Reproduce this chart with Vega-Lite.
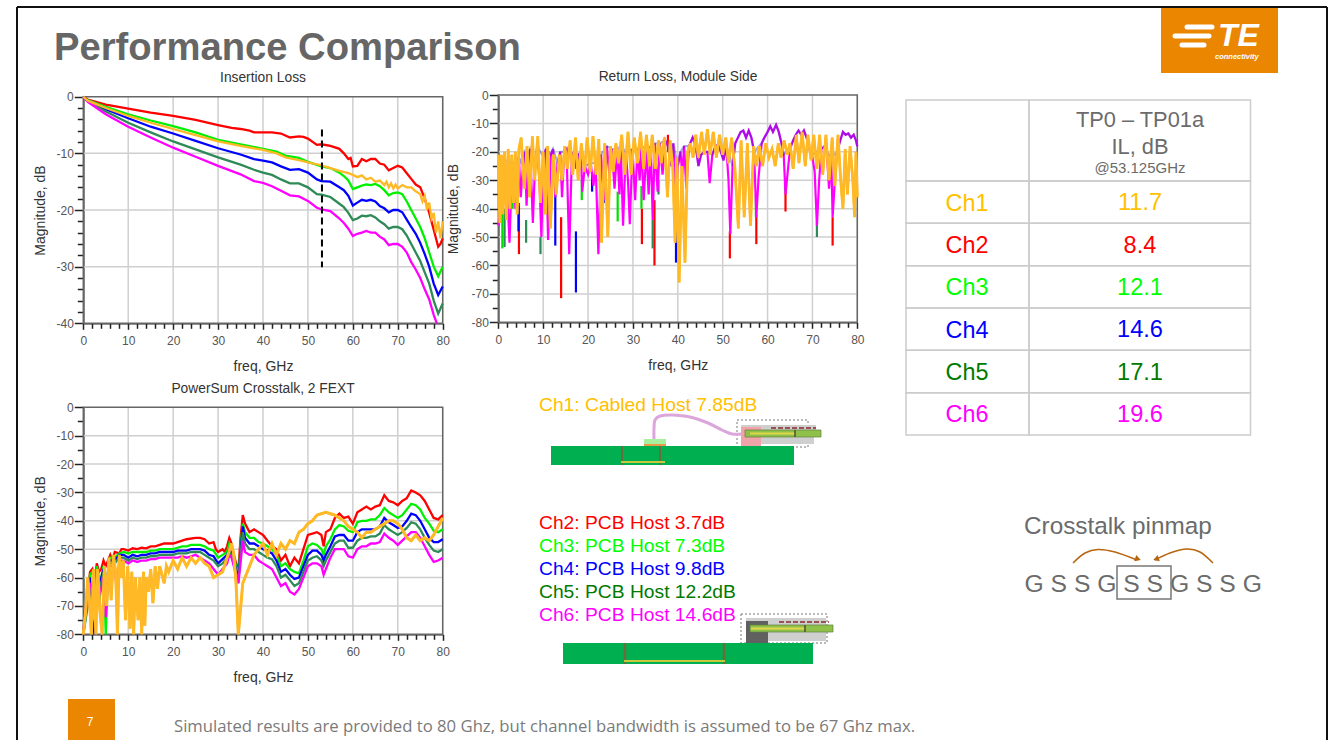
{"$schema":"https://vega.github.io/schema/vega-lite/v6.json","width":1331,"height":740,"padding":0,"autosize":{"type":"none"},"background":"white","data":{"values":[{}]},
"config":{"view":{"stroke":null},"font":"Liberation Sans","axis":{"labelFont":"Liberation Sans","titleFont":"Liberation Sans","labelFontSize":12,"titleFontSize":14,"titleFontWeight":"normal","labelColor":"#555555","titleColor":"#333333","grid":false,"domainColor":"#222222","domainWidth":1.5,"tickColor":"#222222","tickWidth":1.5,"labelOverlap":false,"labelFlush":false}},
"resolve":{"scale":{"x":"independent","y":"independent","color":"independent"},"axis":{"x":"independent","y":"independent"}},
"datasets":{
"il":[
{"ch":"Ch2","f":0,"db":0},{"ch":"Ch2","f":1,"db":-0.5},{"ch":"Ch2","f":5,"db":-1.4},{"ch":"Ch2","f":10,"db":-2.1},{"ch":"Ch2","f":15,"db":-2.8},{"ch":"Ch2","f":20,"db":-3.4},{"ch":"Ch2","f":25,"db":-4.1},{"ch":"Ch2","f":30,"db":-5},{"ch":"Ch2","f":33,"db":-5.5},{"ch":"Ch2","f":35,"db":-5.7},{"ch":"Ch2","f":37,"db":-6},{"ch":"Ch2","f":38,"db":-6.3},{"ch":"Ch2","f":40,"db":-6.3},{"ch":"Ch2","f":42,"db":-6.3},{"ch":"Ch2","f":44,"db":-6.5},{"ch":"Ch2","f":46,"db":-7.2},{"ch":"Ch2","f":48,"db":-7},{"ch":"Ch2","f":49,"db":-7.1},{"ch":"Ch2","f":50,"db":-7.4},{"ch":"Ch2","f":52,"db":-8.5},{"ch":"Ch2","f":53,"db":-8.4},{"ch":"Ch2","f":55,"db":-8.7},{"ch":"Ch2","f":57,"db":-9.2},{"ch":"Ch2","f":58,"db":-10},{"ch":"Ch2","f":59,"db":-11},{"ch":"Ch2","f":59.5,"db":-10.8},{"ch":"Ch2","f":60,"db":-12.3},{"ch":"Ch2","f":61,"db":-12.2},{"ch":"Ch2","f":62,"db":-11},{"ch":"Ch2","f":63,"db":-11.4},{"ch":"Ch2","f":64,"db":-11},{"ch":"Ch2","f":65,"db":-11},{"ch":"Ch2","f":66,"db":-11.8},{"ch":"Ch2","f":67,"db":-12},{"ch":"Ch2","f":68,"db":-13},{"ch":"Ch2","f":69,"db":-12.6},{"ch":"Ch2","f":70,"db":-12.2},{"ch":"Ch2","f":71,"db":-12.5},{"ch":"Ch2","f":72,"db":-13.5},{"ch":"Ch2","f":73,"db":-14.5},{"ch":"Ch2","f":74,"db":-15.5},{"ch":"Ch2","f":75,"db":-16},{"ch":"Ch2","f":76,"db":-18},{"ch":"Ch2","f":77,"db":-20.5},{"ch":"Ch2","f":78,"db":-23.5},{"ch":"Ch2","f":79,"db":-26.5},{"ch":"Ch2","f":79.5,"db":-26},{"ch":"Ch2","f":80,"db":-25},
{"ch":"Ch3","f":0,"db":0},{"ch":"Ch3","f":1,"db":-0.6},{"ch":"Ch3","f":5,"db":-1.8},{"ch":"Ch3","f":10,"db":-3.1},{"ch":"Ch3","f":15,"db":-4.2},{"ch":"Ch3","f":20,"db":-5.2},{"ch":"Ch3","f":25,"db":-6.3},{"ch":"Ch3","f":30,"db":-7.6},{"ch":"Ch3","f":35,"db":-8.4},{"ch":"Ch3","f":40,"db":-9.2},{"ch":"Ch3","f":43,"db":-9.7},{"ch":"Ch3","f":45,"db":-10.4},{"ch":"Ch3","f":48,"db":-10.8},{"ch":"Ch3","f":50,"db":-11.5},{"ch":"Ch3","f":53,"db":-12.3},{"ch":"Ch3","f":55,"db":-12.6},{"ch":"Ch3","f":57,"db":-13.4},{"ch":"Ch3","f":58,"db":-14},{"ch":"Ch3","f":59,"db":-14.8},{"ch":"Ch3","f":60,"db":-16.3},{"ch":"Ch3","f":61,"db":-16},{"ch":"Ch3","f":62,"db":-15.7},{"ch":"Ch3","f":63,"db":-15.5},{"ch":"Ch3","f":64,"db":-15.6},{"ch":"Ch3","f":65,"db":-15.4},{"ch":"Ch3","f":66,"db":-15.8},{"ch":"Ch3","f":67,"db":-16.5},{"ch":"Ch3","f":68,"db":-17.4},{"ch":"Ch3","f":69,"db":-17},{"ch":"Ch3","f":70,"db":-16.9},{"ch":"Ch3","f":71,"db":-17.2},{"ch":"Ch3","f":72,"db":-18.5},{"ch":"Ch3","f":73,"db":-20},{"ch":"Ch3","f":74,"db":-21.5},{"ch":"Ch3","f":75,"db":-23},{"ch":"Ch3","f":76,"db":-25},{"ch":"Ch3","f":77,"db":-27.5},{"ch":"Ch3","f":78,"db":-30},{"ch":"Ch3","f":79,"db":-31.7},{"ch":"Ch3","f":80,"db":-30},
{"ch":"Ch4","f":0,"db":0},{"ch":"Ch4","f":1,"db":-0.7},{"ch":"Ch4","f":5,"db":-2.2},{"ch":"Ch4","f":10,"db":-3.8},{"ch":"Ch4","f":15,"db":-5.3},{"ch":"Ch4","f":20,"db":-6.5},{"ch":"Ch4","f":25,"db":-7.8},{"ch":"Ch4","f":30,"db":-9.1},{"ch":"Ch4","f":35,"db":-10.2},{"ch":"Ch4","f":38,"db":-11},{"ch":"Ch4","f":40,"db":-11.3},{"ch":"Ch4","f":42,"db":-11.6},{"ch":"Ch4","f":44,"db":-12.3},{"ch":"Ch4","f":46,"db":-12.9},{"ch":"Ch4","f":48,"db":-12.8},{"ch":"Ch4","f":50,"db":-13.4},{"ch":"Ch4","f":52,"db":-14.6},{"ch":"Ch4","f":53,"db":-14.9},{"ch":"Ch4","f":55,"db":-15},{"ch":"Ch4","f":57,"db":-16},{"ch":"Ch4","f":58,"db":-16.5},{"ch":"Ch4","f":59,"db":-17.5},{"ch":"Ch4","f":60,"db":-19.2},{"ch":"Ch4","f":61,"db":-18.7},{"ch":"Ch4","f":62,"db":-18.2},{"ch":"Ch4","f":63,"db":-18.4},{"ch":"Ch4","f":64,"db":-18.2},{"ch":"Ch4","f":65,"db":-18.5},{"ch":"Ch4","f":66,"db":-19.3},{"ch":"Ch4","f":67,"db":-19.7},{"ch":"Ch4","f":68,"db":-20.4},{"ch":"Ch4","f":69,"db":-20},{"ch":"Ch4","f":70,"db":-20},{"ch":"Ch4","f":71,"db":-20.4},{"ch":"Ch4","f":72,"db":-21.7},{"ch":"Ch4","f":73,"db":-23},{"ch":"Ch4","f":74,"db":-24.2},{"ch":"Ch4","f":75,"db":-25.8},{"ch":"Ch4","f":76,"db":-27.8},{"ch":"Ch4","f":77,"db":-30},{"ch":"Ch4","f":78,"db":-33},{"ch":"Ch4","f":79,"db":-35},{"ch":"Ch4","f":80,"db":-33.5},
{"ch":"Ch5","f":0,"db":0},{"ch":"Ch5","f":1,"db":-0.8},{"ch":"Ch5","f":5,"db":-2.6},{"ch":"Ch5","f":10,"db":-4.6},{"ch":"Ch5","f":15,"db":-6.3},{"ch":"Ch5","f":20,"db":-7.9},{"ch":"Ch5","f":25,"db":-9.3},{"ch":"Ch5","f":30,"db":-10.7},{"ch":"Ch5","f":35,"db":-12},{"ch":"Ch5","f":38,"db":-12.9},{"ch":"Ch5","f":40,"db":-13.4},{"ch":"Ch5","f":42,"db":-13.8},{"ch":"Ch5","f":44,"db":-14.6},{"ch":"Ch5","f":46,"db":-15.3},{"ch":"Ch5","f":48,"db":-15.3},{"ch":"Ch5","f":50,"db":-16},{"ch":"Ch5","f":52,"db":-17.2},{"ch":"Ch5","f":53,"db":-17.3},{"ch":"Ch5","f":55,"db":-17.7},{"ch":"Ch5","f":57,"db":-18.9},{"ch":"Ch5","f":58,"db":-19.5},{"ch":"Ch5","f":59,"db":-20.5},{"ch":"Ch5","f":60,"db":-21.8},{"ch":"Ch5","f":61,"db":-21.5},{"ch":"Ch5","f":62,"db":-21},{"ch":"Ch5","f":63,"db":-21.1},{"ch":"Ch5","f":64,"db":-20.9},{"ch":"Ch5","f":65,"db":-21.3},{"ch":"Ch5","f":66,"db":-22},{"ch":"Ch5","f":67,"db":-22.5},{"ch":"Ch5","f":68,"db":-23.3},{"ch":"Ch5","f":69,"db":-23},{"ch":"Ch5","f":70,"db":-23},{"ch":"Ch5","f":71,"db":-23.4},{"ch":"Ch5","f":72,"db":-24.5},{"ch":"Ch5","f":73,"db":-26},{"ch":"Ch5","f":74,"db":-27.5},{"ch":"Ch5","f":75,"db":-29},{"ch":"Ch5","f":76,"db":-31},{"ch":"Ch5","f":77,"db":-33},{"ch":"Ch5","f":78,"db":-36},{"ch":"Ch5","f":79,"db":-38.3},{"ch":"Ch5","f":80,"db":-36.5},
{"ch":"Ch6","f":0,"db":0},{"ch":"Ch6","f":1,"db":-0.9},{"ch":"Ch6","f":5,"db":-3.1},{"ch":"Ch6","f":10,"db":-5.3},{"ch":"Ch6","f":15,"db":-7.2},{"ch":"Ch6","f":20,"db":-9},{"ch":"Ch6","f":25,"db":-10.6},{"ch":"Ch6","f":30,"db":-12.2},{"ch":"Ch6","f":35,"db":-13.7},{"ch":"Ch6","f":38,"db":-14.9},{"ch":"Ch6","f":40,"db":-15.2},{"ch":"Ch6","f":42,"db":-15.8},{"ch":"Ch6","f":44,"db":-16.6},{"ch":"Ch6","f":46,"db":-17.4},{"ch":"Ch6","f":48,"db":-17.6},{"ch":"Ch6","f":50,"db":-18.4},{"ch":"Ch6","f":52,"db":-19.6},{"ch":"Ch6","f":53,"db":-19.9},{"ch":"Ch6","f":55,"db":-20.2},{"ch":"Ch6","f":57,"db":-21.5},{"ch":"Ch6","f":58,"db":-22.3},{"ch":"Ch6","f":59,"db":-23.3},{"ch":"Ch6","f":60,"db":-24.6},{"ch":"Ch6","f":61,"db":-24.2},{"ch":"Ch6","f":62,"db":-24},{"ch":"Ch6","f":63,"db":-23.7},{"ch":"Ch6","f":64,"db":-24},{"ch":"Ch6","f":65,"db":-24},{"ch":"Ch6","f":66,"db":-24.7},{"ch":"Ch6","f":67,"db":-25.2},{"ch":"Ch6","f":68,"db":-26.2},{"ch":"Ch6","f":69,"db":-26},{"ch":"Ch6","f":70,"db":-26},{"ch":"Ch6","f":71,"db":-26.5},{"ch":"Ch6","f":72,"db":-27.5},{"ch":"Ch6","f":73,"db":-29.2},{"ch":"Ch6","f":74,"db":-30.5},{"ch":"Ch6","f":75,"db":-32},{"ch":"Ch6","f":76,"db":-34},{"ch":"Ch6","f":77,"db":-35.8},{"ch":"Ch6","f":78,"db":-38.5},{"ch":"Ch6","f":78.7,"db":-40},
{"ch":"Ch1","f":0,"db":0},{"ch":"Ch1","f":1,"db":-0.7},{"ch":"Ch1","f":5,"db":-2},{"ch":"Ch1","f":10,"db":-3.4},{"ch":"Ch1","f":15,"db":-4.6},{"ch":"Ch1","f":20,"db":-5.7},{"ch":"Ch1","f":25,"db":-6.8},{"ch":"Ch1","f":30,"db":-7.9},{"ch":"Ch1","f":35,"db":-8.7},{"ch":"Ch1","f":40,"db":-9.4},{"ch":"Ch1","f":43,"db":-10},{"ch":"Ch1","f":45,"db":-10.7},{"ch":"Ch1","f":48,"db":-11.2},{"ch":"Ch1","f":50,"db":-11.6},{"ch":"Ch1","f":53,"db":-12.1},{"ch":"Ch1","f":55,"db":-12.6},{"ch":"Ch1","f":57,"db":-13.1},{"ch":"Ch1","f":59,"db":-13.5},{"ch":"Ch1","f":60,"db":-13.8},{"ch":"Ch1","f":61,"db":-14.2},{"ch":"Ch1","f":62,"db":-13.9},{"ch":"Ch1","f":63,"db":-14.6},{"ch":"Ch1","f":64,"db":-14.3},{"ch":"Ch1","f":65,"db":-15},{"ch":"Ch1","f":66,"db":-14.8},{"ch":"Ch1","f":67,"db":-15.6},{"ch":"Ch1","f":67.5,"db":-15},{"ch":"Ch1","f":68,"db":-16},{"ch":"Ch1","f":68.5,"db":-15.3},{"ch":"Ch1","f":69,"db":-16.2},{"ch":"Ch1","f":69.5,"db":-15.5},{"ch":"Ch1","f":70,"db":-16.2},{"ch":"Ch1","f":71,"db":-15.6},{"ch":"Ch1","f":72,"db":-16},{"ch":"Ch1","f":73,"db":-16},{"ch":"Ch1","f":74,"db":-16.7},{"ch":"Ch1","f":75,"db":-17.2},{"ch":"Ch1","f":75.5,"db":-18.5},{"ch":"Ch1","f":76,"db":-17.5},{"ch":"Ch1","f":76.5,"db":-20},{"ch":"Ch1","f":77,"db":-18.7},{"ch":"Ch1","f":77.5,"db":-21.5},{"ch":"Ch1","f":78,"db":-20.5},{"ch":"Ch1","f":78.5,"db":-24},{"ch":"Ch1","f":79,"db":-22},{"ch":"Ch1","f":79.5,"db":-25},{"ch":"Ch1","f":80,"db":-22}
],
"rl":[
{"ch":"Ch2","seg":1,"f":4.6,"db":-38},{"ch":"Ch2","seg":1,"f":4.6,"db":-56},{"ch":"Ch2","seg":2,"f":14,"db":-43},{"ch":"Ch2","seg":2,"f":14,"db":-71.5},{"ch":"Ch2","seg":3,"f":32,"db":-40},{"ch":"Ch2","seg":3,"f":32,"db":-52.5},{"ch":"Ch2","seg":4,"f":34.8,"db":-37},{"ch":"Ch2","seg":4,"f":34.8,"db":-60},{"ch":"Ch2","seg":5,"f":51.6,"db":-48},{"ch":"Ch2","seg":5,"f":51.6,"db":-57.5},{"ch":"Ch2","seg":6,"f":57.5,"db":-42},{"ch":"Ch2","seg":6,"f":57.5,"db":-52.5},{"ch":"Ch2","seg":7,"f":64,"db":-34},{"ch":"Ch2","seg":7,"f":64,"db":-41},{"ch":"Ch2","seg":8,"f":74.5,"db":-43},{"ch":"Ch2","seg":8,"f":74.5,"db":-53},{"ch":"Ch2","seg":9,"f":37.8,"db":-14},{"ch":"Ch2","seg":9,"f":37.8,"db":-20},{"ch":"Ch2","seg":10,"f":42,"db":-28},{"ch":"Ch2","seg":10,"f":42,"db":-33},
{"ch":"Ch3","seg":1,"f":0.9,"db":-35},{"ch":"Ch3","seg":1,"f":0.9,"db":-54},{"ch":"Ch3","seg":2,"f":26.6,"db":-34},{"ch":"Ch3","seg":2,"f":26.6,"db":-44.5},{"ch":"Ch3","seg":3,"f":31.9,"db":-32},{"ch":"Ch3","seg":3,"f":31.9,"db":-40},{"ch":"Ch3","seg":4,"f":18.6,"db":-30},{"ch":"Ch3","seg":4,"f":18.6,"db":-37},{"ch":"Ch3","seg":5,"f":57.4,"db":-35},{"ch":"Ch3","seg":5,"f":57.4,"db":-43},{"ch":"Ch3","seg":6,"f":63.9,"db":-31},{"ch":"Ch3","seg":6,"f":63.9,"db":-34},{"ch":"Ch3","seg":7,"f":3.2,"db":-32},{"ch":"Ch3","seg":7,"f":3.2,"db":-40},
{"ch":"Ch4","seg":1,"f":4.5,"db":-39},{"ch":"Ch4","seg":1,"f":4.5,"db":-48},{"ch":"Ch4","seg":2,"f":12.7,"db":-35},{"ch":"Ch4","seg":2,"f":12.7,"db":-53},{"ch":"Ch4","seg":3,"f":17.3,"db":-48},{"ch":"Ch4","seg":3,"f":17.3,"db":-69.5},{"ch":"Ch4","seg":4,"f":39.6,"db":-38},{"ch":"Ch4","seg":4,"f":39.6,"db":-59},{"ch":"Ch4","seg":5,"f":23.5,"db":-30},{"ch":"Ch4","seg":5,"f":23.5,"db":-38},{"ch":"Ch4","seg":6,"f":20.9,"db":-28},{"ch":"Ch4","seg":6,"f":20.9,"db":-34},
{"ch":"Ch5","seg":1,"f":1.4,"db":-40},{"ch":"Ch5","seg":1,"f":1.4,"db":-53.5},{"ch":"Ch5","seg":2,"f":6.2,"db":-44},{"ch":"Ch5","seg":2,"f":6.2,"db":-52},{"ch":"Ch5","seg":3,"f":9.4,"db":-50},{"ch":"Ch5","seg":3,"f":9.4,"db":-56},{"ch":"Ch5","seg":4,"f":34.4,"db":-44},{"ch":"Ch5","seg":4,"f":34.4,"db":-54},{"ch":"Ch5","seg":5,"f":71,"db":-45},{"ch":"Ch5","seg":5,"f":71,"db":-50},{"ch":"Ch5","seg":6,"f":35.7,"db":-30},{"ch":"Ch5","seg":6,"f":35.7,"db":-35},
{"ch":"Ch6","seg":0,"f":0,"db":-46},{"ch":"Ch6","seg":0,"f":0.5,"db":-40},{"ch":"Ch6","seg":0,"f":1,"db":-30},{"ch":"Ch6","seg":0,"f":1.5,"db":-23},{"ch":"Ch6","seg":0,"f":2,"db":-35},{"ch":"Ch6","seg":0,"f":2.5,"db":-52},{"ch":"Ch6","seg":0,"f":3,"db":-28},{"ch":"Ch6","seg":0,"f":3.4,"db":-24},{"ch":"Ch6","seg":0,"f":3.8,"db":-40},{"ch":"Ch6","seg":0,"f":4.2,"db":-30},{"ch":"Ch6","seg":0,"f":4.6,"db":-22},{"ch":"Ch6","seg":0,"f":5,"db":-36},{"ch":"Ch6","seg":0,"f":5.5,"db":-25},{"ch":"Ch6","seg":0,"f":5.9,"db":-20},{"ch":"Ch6","seg":0,"f":6.3,"db":-39},{"ch":"Ch6","seg":0,"f":6.7,"db":-22},{"ch":"Ch6","seg":0,"f":7.1,"db":-19},{"ch":"Ch6","seg":0,"f":7.7,"db":-45},{"ch":"Ch6","seg":0,"f":8.2,"db":-24},{"ch":"Ch6","seg":0,"f":8.7,"db":-18},{"ch":"Ch6","seg":0,"f":9.2,"db":-32},{"ch":"Ch6","seg":0,"f":9.6,"db":-50},{"ch":"Ch6","seg":0,"f":10.1,"db":-22},{"ch":"Ch6","seg":0,"f":10.6,"db":-19},{"ch":"Ch6","seg":0,"f":11.1,"db":-51},{"ch":"Ch6","seg":0,"f":11.7,"db":-21},{"ch":"Ch6","seg":0,"f":12.2,"db":-19},{"ch":"Ch6","seg":0,"f":12.7,"db":-36},{"ch":"Ch6","seg":0,"f":13.2,"db":-24},{"ch":"Ch6","seg":0,"f":13.8,"db":-20},{"ch":"Ch6","seg":0,"f":14.2,"db":-36},{"ch":"Ch6","seg":0,"f":14.7,"db":-20},{"ch":"Ch6","seg":0,"f":15.2,"db":-19},{"ch":"Ch6","seg":0,"f":15.8,"db":-56},{"ch":"Ch6","seg":0,"f":16.4,"db":-21},{"ch":"Ch6","seg":0,"f":16.9,"db":-20},{"ch":"Ch6","seg":0,"f":17.4,"db":-26},{"ch":"Ch6","seg":0,"f":17.9,"db":-21},{"ch":"Ch6","seg":0,"f":18.4,"db":-20},{"ch":"Ch6","seg":0,"f":18.7,"db":-34},{"ch":"Ch6","seg":0,"f":19.3,"db":-25},{"ch":"Ch6","seg":0,"f":20,"db":-28},{"ch":"Ch6","seg":0,"f":20.6,"db":-24},{"ch":"Ch6","seg":0,"f":21.2,"db":-32},{"ch":"Ch6","seg":0,"f":21.7,"db":-24},{"ch":"Ch6","seg":0,"f":22.3,"db":-56},{"ch":"Ch6","seg":0,"f":22.9,"db":-21},{"ch":"Ch6","seg":0,"f":23.6,"db":-37},{"ch":"Ch6","seg":0,"f":24.2,"db":-18},{"ch":"Ch6","seg":0,"f":24.8,"db":-29},{"ch":"Ch6","seg":0,"f":25.3,"db":-19},{"ch":"Ch6","seg":0,"f":25.9,"db":-33},{"ch":"Ch6","seg":0,"f":26.5,"db":-19},{"ch":"Ch6","seg":0,"f":27,"db":-35},{"ch":"Ch6","seg":0,"f":27.3,"db":-18},{"ch":"Ch6","seg":0,"f":27.8,"db":-46},{"ch":"Ch6","seg":0,"f":28.4,"db":-20},{"ch":"Ch6","seg":0,"f":28.9,"db":-30},{"ch":"Ch6","seg":0,"f":29.3,"db":-45.5},{"ch":"Ch6","seg":0,"f":29.9,"db":-19},{"ch":"Ch6","seg":0,"f":30.5,"db":-37},{"ch":"Ch6","seg":0,"f":31,"db":-19},{"ch":"Ch6","seg":0,"f":31.5,"db":-30},{"ch":"Ch6","seg":0,"f":31.9,"db":-18},{"ch":"Ch6","seg":0,"f":32.4,"db":-37},{"ch":"Ch6","seg":0,"f":33,"db":-19},{"ch":"Ch6","seg":0,"f":33.5,"db":-35},{"ch":"Ch6","seg":0,"f":34,"db":-18},{"ch":"Ch6","seg":0,"f":34.4,"db":-44},{"ch":"Ch6","seg":0,"f":34.9,"db":-17},{"ch":"Ch6","seg":0,"f":35.5,"db":-34},{"ch":"Ch6","seg":0,"f":36,"db":-17},{"ch":"Ch6","seg":0,"f":36.6,"db":-28},{"ch":"Ch6","seg":0,"f":37.2,"db":-16},{"ch":"Ch6","seg":0,"f":37.8,"db":-18},{"ch":"Ch6","seg":0,"f":38.5,"db":-25},{"ch":"Ch6","seg":0,"f":39,"db":-17},{"ch":"Ch6","seg":0,"f":39.6,"db":-38},{"ch":"Ch6","seg":0,"f":40,"db":-25},{"ch":"Ch6","seg":0,"f":40.6,"db":-20},{"ch":"Ch6","seg":0,"f":41,"db":-28},{"ch":"Ch6","seg":0,"f":41.4,"db":-18},{"ch":"Ch6","seg":0,"f":41.9,"db":-33},{"ch":"Ch6","seg":0,"f":42.5,"db":-18},{"ch":"Ch6","seg":0,"f":43.3,"db":-15},{"ch":"Ch6","seg":0,"f":44,"db":-18},{"ch":"Ch6","seg":0,"f":44.6,"db":-25},{"ch":"Ch6","seg":0,"f":45.2,"db":-21},{"ch":"Ch6","seg":0,"f":45.9,"db":-20},{"ch":"Ch6","seg":0,"f":46.6,"db":-20},{"ch":"Ch6","seg":0,"f":47.1,"db":-31},{"ch":"Ch6","seg":0,"f":47.7,"db":-21},{"ch":"Ch6","seg":0,"f":48.4,"db":-18},{"ch":"Ch6","seg":0,"f":49,"db":-17.5},{"ch":"Ch6","seg":0,"f":49.6,"db":-20},{"ch":"Ch6","seg":0,"f":50.2,"db":-23},{"ch":"Ch6","seg":0,"f":50.8,"db":-18},{"ch":"Ch6","seg":0,"f":51.3,"db":-30},{"ch":"Ch6","seg":0,"f":51.7,"db":-49},{"ch":"Ch6","seg":0,"f":52.2,"db":-25},{"ch":"Ch6","seg":0,"f":52.8,"db":-17},{"ch":"Ch6","seg":0,"f":53.4,"db":-15},{"ch":"Ch6","seg":0,"f":54,"db":-13},{"ch":"Ch6","seg":0,"f":54.6,"db":-12.5},{"ch":"Ch6","seg":0,"f":55.2,"db":-15},{"ch":"Ch6","seg":0,"f":55.8,"db":-12.5},{"ch":"Ch6","seg":0,"f":56.4,"db":-15},{"ch":"Ch6","seg":0,"f":57,"db":-20},{"ch":"Ch6","seg":0,"f":57.5,"db":-43},{"ch":"Ch6","seg":0,"f":58,"db":-29},{"ch":"Ch6","seg":0,"f":58.7,"db":-17},{"ch":"Ch6","seg":0,"f":59.3,"db":-15},{"ch":"Ch6","seg":0,"f":60,"db":-13},{"ch":"Ch6","seg":0,"f":60.6,"db":-11},{"ch":"Ch6","seg":0,"f":61.2,"db":-13},{"ch":"Ch6","seg":0,"f":61.9,"db":-10.5},{"ch":"Ch6","seg":0,"f":62.5,"db":-13},{"ch":"Ch6","seg":0,"f":63.1,"db":-17},{"ch":"Ch6","seg":0,"f":63.6,"db":-21},{"ch":"Ch6","seg":0,"f":64,"db":-35},{"ch":"Ch6","seg":0,"f":64.5,"db":-27},{"ch":"Ch6","seg":0,"f":65,"db":-19},{"ch":"Ch6","seg":0,"f":65.7,"db":-16},{"ch":"Ch6","seg":0,"f":66.3,"db":-14},{"ch":"Ch6","seg":0,"f":66.9,"db":-12.5},{"ch":"Ch6","seg":0,"f":67.5,"db":-14},{"ch":"Ch6","seg":0,"f":68.1,"db":-12.5},{"ch":"Ch6","seg":0,"f":68.7,"db":-15},{"ch":"Ch6","seg":0,"f":69.3,"db":-19},{"ch":"Ch6","seg":0,"f":69.9,"db":-21},{"ch":"Ch6","seg":0,"f":70.5,"db":-27},{"ch":"Ch6","seg":0,"f":71,"db":-46},{"ch":"Ch6","seg":0,"f":71.5,"db":-30},{"ch":"Ch6","seg":0,"f":72,"db":-19},{"ch":"Ch6","seg":0,"f":72.7,"db":-18},{"ch":"Ch6","seg":0,"f":73.2,"db":-20},{"ch":"Ch6","seg":0,"f":73.7,"db":-33},{"ch":"Ch6","seg":0,"f":74.2,"db":-22},{"ch":"Ch6","seg":0,"f":74.5,"db":-43},{"ch":"Ch6","seg":0,"f":75,"db":-30},{"ch":"Ch6","seg":0,"f":75.5,"db":-20},{"ch":"Ch6","seg":0,"f":76.2,"db":-16},{"ch":"Ch6","seg":0,"f":76.8,"db":-13},{"ch":"Ch6","seg":0,"f":77.4,"db":-14},{"ch":"Ch6","seg":0,"f":78,"db":-13.5},{"ch":"Ch6","seg":0,"f":78.6,"db":-15},{"ch":"Ch6","seg":0,"f":79.2,"db":-14},{"ch":"Ch6","seg":0,"f":79.7,"db":-16},{"ch":"Ch6","seg":0,"f":80,"db":-18},
{"ch":"Ch1","seg":0,"f":0,"db":-21},{"ch":"Ch1","seg":0,"f":0.35,"db":-45},{"ch":"Ch1","seg":0,"f":0.7,"db":-21},{"ch":"Ch1","seg":0,"f":1,"db":-42},{"ch":"Ch1","seg":0,"f":1.4,"db":-20},{"ch":"Ch1","seg":0,"f":1.8,"db":-44},{"ch":"Ch1","seg":0,"f":2.2,"db":-19},{"ch":"Ch1","seg":0,"f":2.6,"db":-40},{"ch":"Ch1","seg":0,"f":3,"db":-21},{"ch":"Ch1","seg":0,"f":3.4,"db":-38},{"ch":"Ch1","seg":0,"f":3.8,"db":-20},{"ch":"Ch1","seg":0,"f":4.2,"db":-42},{"ch":"Ch1","seg":0,"f":4.6,"db":-19},{"ch":"Ch1","seg":0,"f":5.1,"db":-15},{"ch":"Ch1","seg":0,"f":5.8,"db":-33},{"ch":"Ch1","seg":0,"f":6.4,"db":-18},{"ch":"Ch1","seg":0,"f":7,"db":-36},{"ch":"Ch1","seg":0,"f":7.6,"db":-14.5},{"ch":"Ch1","seg":0,"f":8.1,"db":-30},{"ch":"Ch1","seg":0,"f":8.8,"db":-14.5},{"ch":"Ch1","seg":0,"f":9.4,"db":-38},{"ch":"Ch1","seg":0,"f":10,"db":-20},{"ch":"Ch1","seg":0,"f":10.5,"db":-42},{"ch":"Ch1","seg":0,"f":11,"db":-18},{"ch":"Ch1","seg":0,"f":11.6,"db":-47},{"ch":"Ch1","seg":0,"f":12.3,"db":-21},{"ch":"Ch1","seg":0,"f":12.9,"db":-35},{"ch":"Ch1","seg":0,"f":13.6,"db":-21},{"ch":"Ch1","seg":0,"f":14.2,"db":-30},{"ch":"Ch1","seg":0,"f":14.8,"db":-18},{"ch":"Ch1","seg":0,"f":15.4,"db":-26},{"ch":"Ch1","seg":0,"f":16,"db":-16},{"ch":"Ch1","seg":0,"f":16.6,"db":-28},{"ch":"Ch1","seg":0,"f":17.2,"db":-15},{"ch":"Ch1","seg":0,"f":17.8,"db":-30},{"ch":"Ch1","seg":0,"f":18.5,"db":-17},{"ch":"Ch1","seg":0,"f":19.2,"db":-27},{"ch":"Ch1","seg":0,"f":19.8,"db":-15},{"ch":"Ch1","seg":0,"f":20.5,"db":-27},{"ch":"Ch1","seg":0,"f":21.1,"db":-14.5},{"ch":"Ch1","seg":0,"f":21.8,"db":-28},{"ch":"Ch1","seg":0,"f":22.4,"db":-15.5},{"ch":"Ch1","seg":0,"f":23,"db":-52},{"ch":"Ch1","seg":0,"f":23.7,"db":-17},{"ch":"Ch1","seg":0,"f":24.4,"db":-50},{"ch":"Ch1","seg":0,"f":25,"db":-18},{"ch":"Ch1","seg":0,"f":25.6,"db":-27},{"ch":"Ch1","seg":0,"f":26.2,"db":-17},{"ch":"Ch1","seg":0,"f":26.8,"db":-24},{"ch":"Ch1","seg":0,"f":27.5,"db":-14},{"ch":"Ch1","seg":0,"f":28.2,"db":-28},{"ch":"Ch1","seg":0,"f":28.9,"db":-13},{"ch":"Ch1","seg":0,"f":29.6,"db":-28},{"ch":"Ch1","seg":0,"f":30.3,"db":-15},{"ch":"Ch1","seg":0,"f":31,"db":-24},{"ch":"Ch1","seg":0,"f":31.7,"db":-13},{"ch":"Ch1","seg":0,"f":32.4,"db":-26},{"ch":"Ch1","seg":0,"f":33,"db":-14},{"ch":"Ch1","seg":0,"f":33.7,"db":-25},{"ch":"Ch1","seg":0,"f":34.3,"db":-14},{"ch":"Ch1","seg":0,"f":35,"db":-26},{"ch":"Ch1","seg":0,"f":35.7,"db":-16},{"ch":"Ch1","seg":0,"f":36.3,"db":-24},{"ch":"Ch1","seg":0,"f":37,"db":-15},{"ch":"Ch1","seg":0,"f":37.7,"db":-36},{"ch":"Ch1","seg":0,"f":38.3,"db":-16},{"ch":"Ch1","seg":0,"f":38.9,"db":-26},{"ch":"Ch1","seg":0,"f":39.4,"db":-52},{"ch":"Ch1","seg":0,"f":39.8,"db":-22},{"ch":"Ch1","seg":0,"f":40.3,"db":-66},{"ch":"Ch1","seg":0,"f":40.9,"db":-25},{"ch":"Ch1","seg":0,"f":41.6,"db":-59},{"ch":"Ch1","seg":0,"f":42.2,"db":-20},{"ch":"Ch1","seg":0,"f":42.8,"db":-17},{"ch":"Ch1","seg":0,"f":43.4,"db":-22},{"ch":"Ch1","seg":0,"f":44,"db":-14},{"ch":"Ch1","seg":0,"f":44.6,"db":-22},{"ch":"Ch1","seg":0,"f":45.3,"db":-13},{"ch":"Ch1","seg":0,"f":45.9,"db":-21},{"ch":"Ch1","seg":0,"f":46.6,"db":-12},{"ch":"Ch1","seg":0,"f":47.2,"db":-21},{"ch":"Ch1","seg":0,"f":47.9,"db":-13},{"ch":"Ch1","seg":0,"f":48.6,"db":-22},{"ch":"Ch1","seg":0,"f":49.3,"db":-14},{"ch":"Ch1","seg":0,"f":50,"db":-21},{"ch":"Ch1","seg":0,"f":50.7,"db":-15},{"ch":"Ch1","seg":0,"f":51.3,"db":-24},{"ch":"Ch1","seg":0,"f":52,"db":-15},{"ch":"Ch1","seg":0,"f":52.7,"db":-25},{"ch":"Ch1","seg":0,"f":53.5,"db":-47},{"ch":"Ch1","seg":0,"f":54.1,"db":-16},{"ch":"Ch1","seg":0,"f":54.8,"db":-43},{"ch":"Ch1","seg":0,"f":55.5,"db":-17},{"ch":"Ch1","seg":0,"f":56.2,"db":-46},{"ch":"Ch1","seg":0,"f":56.9,"db":-18},{"ch":"Ch1","seg":0,"f":57.5,"db":-25},{"ch":"Ch1","seg":0,"f":58.2,"db":-18},{"ch":"Ch1","seg":0,"f":58.9,"db":-25},{"ch":"Ch1","seg":0,"f":59.6,"db":-17},{"ch":"Ch1","seg":0,"f":60.3,"db":-22},{"ch":"Ch1","seg":0,"f":61,"db":-19},{"ch":"Ch1","seg":0,"f":61.7,"db":-25},{"ch":"Ch1","seg":0,"f":62.4,"db":-17},{"ch":"Ch1","seg":0,"f":63,"db":-22},{"ch":"Ch1","seg":0,"f":63.7,"db":-16},{"ch":"Ch1","seg":0,"f":64.4,"db":-21},{"ch":"Ch1","seg":0,"f":65,"db":-17},{"ch":"Ch1","seg":0,"f":65.7,"db":-26},{"ch":"Ch1","seg":0,"f":66.4,"db":-14},{"ch":"Ch1","seg":0,"f":67,"db":-24},{"ch":"Ch1","seg":0,"f":67.7,"db":-13},{"ch":"Ch1","seg":0,"f":68.4,"db":-25},{"ch":"Ch1","seg":0,"f":69,"db":-14},{"ch":"Ch1","seg":0,"f":69.7,"db":-23},{"ch":"Ch1","seg":0,"f":70.3,"db":-14},{"ch":"Ch1","seg":0,"f":71,"db":-26},{"ch":"Ch1","seg":0,"f":71.6,"db":-14},{"ch":"Ch1","seg":0,"f":72.3,"db":-28},{"ch":"Ch1","seg":0,"f":73,"db":-14},{"ch":"Ch1","seg":0,"f":73.7,"db":-30},{"ch":"Ch1","seg":0,"f":74.4,"db":-15},{"ch":"Ch1","seg":0,"f":75,"db":-32},{"ch":"Ch1","seg":0,"f":75.7,"db":-14},{"ch":"Ch1","seg":0,"f":76.3,"db":-30},{"ch":"Ch1","seg":0,"f":76.8,"db":-40},{"ch":"Ch1","seg":0,"f":77.3,"db":-19},{"ch":"Ch1","seg":0,"f":77.8,"db":-35},{"ch":"Ch1","seg":0,"f":78.4,"db":-18},{"ch":"Ch1","seg":0,"f":79,"db":-30},{"ch":"Ch1","seg":0,"f":79.4,"db":-43},{"ch":"Ch1","seg":0,"f":79.7,"db":-20},{"ch":"Ch1","seg":0,"f":80,"db":-36}
],
"xt":[
{"ch":"Ch2","f":0,"db":-80},{"ch":"Ch2","f":0.5,"db":-72},{"ch":"Ch2","f":1,"db":-65},{"ch":"Ch2","f":1.5,"db":-58},{"ch":"Ch2","f":2,"db":-57},{"ch":"Ch2","f":2.5,"db":-62},{"ch":"Ch2","f":3,"db":-55},{"ch":"Ch2","f":3.5,"db":-58},{"ch":"Ch2","f":4,"db":-57},{"ch":"Ch2","f":4.5,"db":-54},{"ch":"Ch2","f":5,"db":-56},{"ch":"Ch2","f":6,"db":-52},{"ch":"Ch2","f":6.5,"db":-54},{"ch":"Ch2","f":7,"db":-51},{"ch":"Ch2","f":8,"db":-51.5},{"ch":"Ch2","f":8.5,"db":-50},{"ch":"Ch2","f":9,"db":-50},{"ch":"Ch2","f":10,"db":-50.5},{"ch":"Ch2","f":11,"db":-49.7},{"ch":"Ch2","f":12,"db":-50},{"ch":"Ch2","f":13,"db":-49.5},{"ch":"Ch2","f":14,"db":-49.7},{"ch":"Ch2","f":15,"db":-49},{"ch":"Ch2","f":16,"db":-49},{"ch":"Ch2","f":17,"db":-48.5},{"ch":"Ch2","f":18,"db":-48},{"ch":"Ch2","f":20,"db":-48},{"ch":"Ch2","f":21,"db":-47.5},{"ch":"Ch2","f":22,"db":-47},{"ch":"Ch2","f":23,"db":-46.5},{"ch":"Ch2","f":25,"db":-46},{"ch":"Ch2","f":26,"db":-46},{"ch":"Ch2","f":27,"db":-46.5},{"ch":"Ch2","f":28,"db":-48},{"ch":"Ch2","f":29,"db":-47.5},{"ch":"Ch2","f":29.5,"db":-50},{"ch":"Ch2","f":30,"db":-51},{"ch":"Ch2","f":31,"db":-50},{"ch":"Ch2","f":31.5,"db":-51},{"ch":"Ch2","f":32,"db":-49},{"ch":"Ch2","f":32.5,"db":-46},{"ch":"Ch2","f":33,"db":-48},{"ch":"Ch2","f":33.5,"db":-52},{"ch":"Ch2","f":34,"db":-55},{"ch":"Ch2","f":34.5,"db":-58},{"ch":"Ch2","f":35,"db":-46},{"ch":"Ch2","f":35.5,"db":-38},{"ch":"Ch2","f":36,"db":-41},{"ch":"Ch2","f":37,"db":-44},{"ch":"Ch2","f":38,"db":-43},{"ch":"Ch2","f":39,"db":-44},{"ch":"Ch2","f":40,"db":-45},{"ch":"Ch2","f":41,"db":-47},{"ch":"Ch2","f":42,"db":-49},{"ch":"Ch2","f":43,"db":-50},{"ch":"Ch2","f":44,"db":-54},{"ch":"Ch2","f":45,"db":-52},{"ch":"Ch2","f":46,"db":-56},{"ch":"Ch2","f":47,"db":-53},{"ch":"Ch2","f":48,"db":-55},{"ch":"Ch2","f":49,"db":-50},{"ch":"Ch2","f":50,"db":-45},{"ch":"Ch2","f":51,"db":-44.5},{"ch":"Ch2","f":52,"db":-44},{"ch":"Ch2","f":53,"db":-45},{"ch":"Ch2","f":53.5,"db":-49},{"ch":"Ch2","f":54,"db":-44},{"ch":"Ch2","f":55,"db":-43},{"ch":"Ch2","f":56,"db":-39},{"ch":"Ch2","f":57,"db":-37.5},{"ch":"Ch2","f":58,"db":-39},{"ch":"Ch2","f":59,"db":-38.5},{"ch":"Ch2","f":60,"db":-41},{"ch":"Ch2","f":61,"db":-37},{"ch":"Ch2","f":62,"db":-36},{"ch":"Ch2","f":63,"db":-35},{"ch":"Ch2","f":64,"db":-36},{"ch":"Ch2","f":65,"db":-35},{"ch":"Ch2","f":66,"db":-34.5},{"ch":"Ch2","f":67,"db":-31},{"ch":"Ch2","f":68,"db":-33},{"ch":"Ch2","f":69,"db":-33.5},{"ch":"Ch2","f":70,"db":-34.5},{"ch":"Ch2","f":71,"db":-33},{"ch":"Ch2","f":72,"db":-32},{"ch":"Ch2","f":73,"db":-29.3},{"ch":"Ch2","f":74,"db":-30},{"ch":"Ch2","f":75,"db":-31},{"ch":"Ch2","f":76,"db":-33},{"ch":"Ch2","f":77,"db":-36},{"ch":"Ch2","f":78,"db":-39},{"ch":"Ch2","f":79,"db":-39.5},{"ch":"Ch2","f":80,"db":-38},
{"ch":"Ch3","f":0,"db":-80},{"ch":"Ch3","f":0.5,"db":-74},{"ch":"Ch3","f":1,"db":-66},{"ch":"Ch3","f":1.5,"db":-59},{"ch":"Ch3","f":2,"db":-58},{"ch":"Ch3","f":2.5,"db":-65},{"ch":"Ch3","f":3,"db":-56},{"ch":"Ch3","f":3.5,"db":-60},{"ch":"Ch3","f":4,"db":-60},{"ch":"Ch3","f":4.5,"db":-56},{"ch":"Ch3","f":5,"db":-80},{"ch":"Ch3","f":5.5,"db":-58},{"ch":"Ch3","f":6,"db":-53},{"ch":"Ch3","f":7,"db":-53},{"ch":"Ch3","f":8,"db":-51.5},{"ch":"Ch3","f":9,"db":-51},{"ch":"Ch3","f":10,"db":-51.5},{"ch":"Ch3","f":11,"db":-51},{"ch":"Ch3","f":14,"db":-51},{"ch":"Ch3","f":15,"db":-50.5},{"ch":"Ch3","f":16,"db":-50.5},{"ch":"Ch3","f":17,"db":-50},{"ch":"Ch3","f":20,"db":-50},{"ch":"Ch3","f":21,"db":-49.5},{"ch":"Ch3","f":22,"db":-49},{"ch":"Ch3","f":23,"db":-49},{"ch":"Ch3","f":24,"db":-48.5},{"ch":"Ch3","f":26,"db":-48.5},{"ch":"Ch3","f":27,"db":-49},{"ch":"Ch3","f":28,"db":-50},{"ch":"Ch3","f":29,"db":-50.5},{"ch":"Ch3","f":30,"db":-53},{"ch":"Ch3","f":31,"db":-52},{"ch":"Ch3","f":32,"db":-51},{"ch":"Ch3","f":32.5,"db":-48},{"ch":"Ch3","f":33,"db":-50},{"ch":"Ch3","f":34,"db":-56},{"ch":"Ch3","f":34.5,"db":-60},{"ch":"Ch3","f":35,"db":-49},{"ch":"Ch3","f":35.5,"db":-41},{"ch":"Ch3","f":36,"db":-44},{"ch":"Ch3","f":37,"db":-46},{"ch":"Ch3","f":38,"db":-46},{"ch":"Ch3","f":39,"db":-47.5},{"ch":"Ch3","f":40,"db":-48},{"ch":"Ch3","f":41,"db":-49},{"ch":"Ch3","f":42,"db":-50},{"ch":"Ch3","f":43,"db":-52},{"ch":"Ch3","f":44,"db":-56},{"ch":"Ch3","f":45,"db":-55},{"ch":"Ch3","f":46,"db":-57},{"ch":"Ch3","f":47,"db":-58},{"ch":"Ch3","f":48,"db":-58.5},{"ch":"Ch3","f":49,"db":-54},{"ch":"Ch3","f":50,"db":-49},{"ch":"Ch3","f":51,"db":-48},{"ch":"Ch3","f":52,"db":-48.5},{"ch":"Ch3","f":53,"db":-50},{"ch":"Ch3","f":53.5,"db":-52},{"ch":"Ch3","f":54,"db":-49},{"ch":"Ch3","f":55,"db":-46.5},{"ch":"Ch3","f":56,"db":-43},{"ch":"Ch3","f":57,"db":-41.5},{"ch":"Ch3","f":58,"db":-42},{"ch":"Ch3","f":59,"db":-43.5},{"ch":"Ch3","f":60,"db":-44},{"ch":"Ch3","f":61,"db":-40.5},{"ch":"Ch3","f":62,"db":-40},{"ch":"Ch3","f":63,"db":-40},{"ch":"Ch3","f":64,"db":-39.5},{"ch":"Ch3","f":65,"db":-39.5},{"ch":"Ch3","f":66,"db":-38},{"ch":"Ch3","f":67,"db":-35.5},{"ch":"Ch3","f":68,"db":-37},{"ch":"Ch3","f":69,"db":-38},{"ch":"Ch3","f":70,"db":-39},{"ch":"Ch3","f":71,"db":-38},{"ch":"Ch3","f":72,"db":-36},{"ch":"Ch3","f":73,"db":-34},{"ch":"Ch3","f":74,"db":-34.5},{"ch":"Ch3","f":75,"db":-36},{"ch":"Ch3","f":76,"db":-39},{"ch":"Ch3","f":77,"db":-41},{"ch":"Ch3","f":78,"db":-43.5},{"ch":"Ch3","f":79,"db":-44},{"ch":"Ch3","f":80,"db":-43},
{"ch":"Ch4","f":0,"db":-80},{"ch":"Ch4","f":0.5,"db":-70},{"ch":"Ch4","f":1,"db":-68},{"ch":"Ch4","f":1.5,"db":-60},{"ch":"Ch4","f":2,"db":-75},{"ch":"Ch4","f":2.5,"db":-80},{"ch":"Ch4","f":3,"db":-58},{"ch":"Ch4","f":3.5,"db":-62},{"ch":"Ch4","f":4,"db":-60},{"ch":"Ch4","f":4.5,"db":-57},{"ch":"Ch4","f":5,"db":-72},{"ch":"Ch4","f":5.5,"db":-58},{"ch":"Ch4","f":6,"db":-54},{"ch":"Ch4","f":7,"db":-54},{"ch":"Ch4","f":8,"db":-52},{"ch":"Ch4","f":9,"db":-52},{"ch":"Ch4","f":10,"db":-53},{"ch":"Ch4","f":11,"db":-52},{"ch":"Ch4","f":12,"db":-52.5},{"ch":"Ch4","f":13,"db":-52},{"ch":"Ch4","f":14,"db":-52},{"ch":"Ch4","f":15,"db":-51.5},{"ch":"Ch4","f":16,"db":-51.5},{"ch":"Ch4","f":17,"db":-51},{"ch":"Ch4","f":20,"db":-51},{"ch":"Ch4","f":21,"db":-50.5},{"ch":"Ch4","f":23,"db":-50.5},{"ch":"Ch4","f":24,"db":-50},{"ch":"Ch4","f":26,"db":-50},{"ch":"Ch4","f":27,"db":-50.5},{"ch":"Ch4","f":28,"db":-52},{"ch":"Ch4","f":29,"db":-52.5},{"ch":"Ch4","f":30,"db":-55},{"ch":"Ch4","f":31,"db":-53.5},{"ch":"Ch4","f":32,"db":-52},{"ch":"Ch4","f":32.5,"db":-50},{"ch":"Ch4","f":33,"db":-51},{"ch":"Ch4","f":34,"db":-57},{"ch":"Ch4","f":34.5,"db":-61},{"ch":"Ch4","f":35,"db":-51},{"ch":"Ch4","f":35.5,"db":-42},{"ch":"Ch4","f":36,"db":-46},{"ch":"Ch4","f":37,"db":-48},{"ch":"Ch4","f":38,"db":-48},{"ch":"Ch4","f":39,"db":-49},{"ch":"Ch4","f":40,"db":-50},{"ch":"Ch4","f":41,"db":-50.5},{"ch":"Ch4","f":42,"db":-51.5},{"ch":"Ch4","f":43,"db":-54},{"ch":"Ch4","f":44,"db":-58},{"ch":"Ch4","f":45,"db":-57},{"ch":"Ch4","f":46,"db":-59},{"ch":"Ch4","f":47,"db":-60.5},{"ch":"Ch4","f":48,"db":-60},{"ch":"Ch4","f":49,"db":-56},{"ch":"Ch4","f":50,"db":-52},{"ch":"Ch4","f":51,"db":-50.5},{"ch":"Ch4","f":52,"db":-50.5},{"ch":"Ch4","f":53,"db":-52},{"ch":"Ch4","f":53.5,"db":-54},{"ch":"Ch4","f":54,"db":-52},{"ch":"Ch4","f":55,"db":-49},{"ch":"Ch4","f":56,"db":-45.5},{"ch":"Ch4","f":57,"db":-45},{"ch":"Ch4","f":58,"db":-45},{"ch":"Ch4","f":59,"db":-47},{"ch":"Ch4","f":60,"db":-47},{"ch":"Ch4","f":61,"db":-44},{"ch":"Ch4","f":62,"db":-43},{"ch":"Ch4","f":65,"db":-43},{"ch":"Ch4","f":66,"db":-42},{"ch":"Ch4","f":67,"db":-39},{"ch":"Ch4","f":68,"db":-40.5},{"ch":"Ch4","f":69,"db":-41.5},{"ch":"Ch4","f":70,"db":-42.5},{"ch":"Ch4","f":71,"db":-42},{"ch":"Ch4","f":72,"db":-40},{"ch":"Ch4","f":73,"db":-37.5},{"ch":"Ch4","f":74,"db":-38},{"ch":"Ch4","f":75,"db":-40},{"ch":"Ch4","f":76,"db":-43},{"ch":"Ch4","f":77,"db":-46},{"ch":"Ch4","f":78,"db":-47.5},{"ch":"Ch4","f":79,"db":-47.5},{"ch":"Ch4","f":80,"db":-46.5},
{"ch":"Ch5","f":0,"db":-80},{"ch":"Ch5","f":1,"db":-70},{"ch":"Ch5","f":1.5,"db":-62},{"ch":"Ch5","f":2,"db":-65},{"ch":"Ch5","f":2.5,"db":-58},{"ch":"Ch5","f":3,"db":-60},{"ch":"Ch5","f":3.5,"db":-70},{"ch":"Ch5","f":4,"db":-62},{"ch":"Ch5","f":4.5,"db":-58},{"ch":"Ch5","f":5,"db":-62},{"ch":"Ch5","f":6,"db":-55},{"ch":"Ch5","f":7,"db":-55},{"ch":"Ch5","f":8,"db":-53},{"ch":"Ch5","f":9,"db":-53},{"ch":"Ch5","f":10,"db":-54},{"ch":"Ch5","f":11,"db":-53},{"ch":"Ch5","f":12,"db":-53.5},{"ch":"Ch5","f":13,"db":-53},{"ch":"Ch5","f":14,"db":-53},{"ch":"Ch5","f":15,"db":-52.5},{"ch":"Ch5","f":16,"db":-52.5},{"ch":"Ch5","f":17,"db":-52},{"ch":"Ch5","f":20,"db":-52},{"ch":"Ch5","f":21,"db":-51.5},{"ch":"Ch5","f":23,"db":-51.5},{"ch":"Ch5","f":24,"db":-51},{"ch":"Ch5","f":26,"db":-51},{"ch":"Ch5","f":27,"db":-52},{"ch":"Ch5","f":28,"db":-53},{"ch":"Ch5","f":29,"db":-54},{"ch":"Ch5","f":30,"db":-56},{"ch":"Ch5","f":31,"db":-55},{"ch":"Ch5","f":32,"db":-53},{"ch":"Ch5","f":32.5,"db":-51},{"ch":"Ch5","f":33,"db":-52},{"ch":"Ch5","f":34,"db":-58},{"ch":"Ch5","f":34.5,"db":-62},{"ch":"Ch5","f":35,"db":-52},{"ch":"Ch5","f":35.5,"db":-44},{"ch":"Ch5","f":36,"db":-48},{"ch":"Ch5","f":37,"db":-50},{"ch":"Ch5","f":38,"db":-50},{"ch":"Ch5","f":39,"db":-51},{"ch":"Ch5","f":40,"db":-52},{"ch":"Ch5","f":41,"db":-53},{"ch":"Ch5","f":42,"db":-53.5},{"ch":"Ch5","f":43,"db":-56},{"ch":"Ch5","f":44,"db":-60},{"ch":"Ch5","f":45,"db":-59},{"ch":"Ch5","f":46,"db":-61},{"ch":"Ch5","f":47,"db":-63},{"ch":"Ch5","f":48,"db":-62},{"ch":"Ch5","f":49,"db":-58},{"ch":"Ch5","f":50,"db":-54},{"ch":"Ch5","f":51,"db":-53},{"ch":"Ch5","f":52,"db":-52.5},{"ch":"Ch5","f":53,"db":-54},{"ch":"Ch5","f":53.5,"db":-56},{"ch":"Ch5","f":54,"db":-54},{"ch":"Ch5","f":55,"db":-51},{"ch":"Ch5","f":56,"db":-48},{"ch":"Ch5","f":57,"db":-47},{"ch":"Ch5","f":58,"db":-47},{"ch":"Ch5","f":59,"db":-49.5},{"ch":"Ch5","f":60,"db":-49.5},{"ch":"Ch5","f":61,"db":-47},{"ch":"Ch5","f":62,"db":-46},{"ch":"Ch5","f":63,"db":-46},{"ch":"Ch5","f":64,"db":-45.5},{"ch":"Ch5","f":65,"db":-45.5},{"ch":"Ch5","f":66,"db":-44.5},{"ch":"Ch5","f":67,"db":-41.5},{"ch":"Ch5","f":68,"db":-43},{"ch":"Ch5","f":69,"db":-44},{"ch":"Ch5","f":70,"db":-45},{"ch":"Ch5","f":71,"db":-44},{"ch":"Ch5","f":72,"db":-42.5},{"ch":"Ch5","f":73,"db":-40.5},{"ch":"Ch5","f":74,"db":-41},{"ch":"Ch5","f":75,"db":-43},{"ch":"Ch5","f":76,"db":-46},{"ch":"Ch5","f":77,"db":-48.5},{"ch":"Ch5","f":78,"db":-50.5},{"ch":"Ch5","f":79,"db":-51},{"ch":"Ch5","f":80,"db":-50},
{"ch":"Ch6","f":0,"db":-80},{"ch":"Ch6","f":0.5,"db":-71},{"ch":"Ch6","f":1,"db":-70},{"ch":"Ch6","f":1.5,"db":-62},{"ch":"Ch6","f":2,"db":-64},{"ch":"Ch6","f":2.5,"db":-59},{"ch":"Ch6","f":3,"db":-62},{"ch":"Ch6","f":3.5,"db":-66},{"ch":"Ch6","f":4,"db":-64},{"ch":"Ch6","f":4.5,"db":-60},{"ch":"Ch6","f":5,"db":-74},{"ch":"Ch6","f":5.5,"db":-60},{"ch":"Ch6","f":6,"db":-56},{"ch":"Ch6","f":7,"db":-56},{"ch":"Ch6","f":7.5,"db":-66},{"ch":"Ch6","f":8,"db":-54},{"ch":"Ch6","f":9,"db":-54},{"ch":"Ch6","f":10,"db":-55},{"ch":"Ch6","f":11,"db":-54},{"ch":"Ch6","f":12,"db":-54.5},{"ch":"Ch6","f":13,"db":-54},{"ch":"Ch6","f":14,"db":-54},{"ch":"Ch6","f":15,"db":-53.5},{"ch":"Ch6","f":16,"db":-53.5},{"ch":"Ch6","f":17,"db":-53},{"ch":"Ch6","f":21,"db":-53},{"ch":"Ch6","f":22,"db":-52.5},{"ch":"Ch6","f":23,"db":-53},{"ch":"Ch6","f":24,"db":-52.5},{"ch":"Ch6","f":25,"db":-52},{"ch":"Ch6","f":26,"db":-53},{"ch":"Ch6","f":27,"db":-54},{"ch":"Ch6","f":28,"db":-55},{"ch":"Ch6","f":29,"db":-57},{"ch":"Ch6","f":30,"db":-59},{"ch":"Ch6","f":31,"db":-57},{"ch":"Ch6","f":32,"db":-55},{"ch":"Ch6","f":32.5,"db":-52},{"ch":"Ch6","f":33,"db":-53},{"ch":"Ch6","f":34,"db":-59},{"ch":"Ch6","f":34.5,"db":-62},{"ch":"Ch6","f":35,"db":-55},{"ch":"Ch6","f":35.5,"db":-47},{"ch":"Ch6","f":36,"db":-51},{"ch":"Ch6","f":37,"db":-52},{"ch":"Ch6","f":38,"db":-52},{"ch":"Ch6","f":39,"db":-54},{"ch":"Ch6","f":40,"db":-55},{"ch":"Ch6","f":41,"db":-56},{"ch":"Ch6","f":42,"db":-57},{"ch":"Ch6","f":43,"db":-60},{"ch":"Ch6","f":44,"db":-63},{"ch":"Ch6","f":45,"db":-62},{"ch":"Ch6","f":46,"db":-65},{"ch":"Ch6","f":47,"db":-66},{"ch":"Ch6","f":48,"db":-64},{"ch":"Ch6","f":49,"db":-60},{"ch":"Ch6","f":50,"db":-56},{"ch":"Ch6","f":51,"db":-55},{"ch":"Ch6","f":52,"db":-55},{"ch":"Ch6","f":53,"db":-56},{"ch":"Ch6","f":53.5,"db":-59},{"ch":"Ch6","f":54,"db":-57},{"ch":"Ch6","f":55,"db":-53},{"ch":"Ch6","f":56,"db":-50},{"ch":"Ch6","f":58,"db":-50},{"ch":"Ch6","f":59,"db":-52.5},{"ch":"Ch6","f":60,"db":-53},{"ch":"Ch6","f":61,"db":-50},{"ch":"Ch6","f":62,"db":-49},{"ch":"Ch6","f":63,"db":-49},{"ch":"Ch6","f":64,"db":-48},{"ch":"Ch6","f":65,"db":-48},{"ch":"Ch6","f":66,"db":-47.5},{"ch":"Ch6","f":67,"db":-44.5},{"ch":"Ch6","f":68,"db":-46},{"ch":"Ch6","f":69,"db":-47},{"ch":"Ch6","f":70,"db":-48.5},{"ch":"Ch6","f":71,"db":-47},{"ch":"Ch6","f":72,"db":-45.5},{"ch":"Ch6","f":73,"db":-44},{"ch":"Ch6","f":74,"db":-44},{"ch":"Ch6","f":75,"db":-46},{"ch":"Ch6","f":76,"db":-49},{"ch":"Ch6","f":77,"db":-52},{"ch":"Ch6","f":78,"db":-54.5},{"ch":"Ch6","f":79,"db":-54},{"ch":"Ch6","f":80,"db":-53},
{"ch":"Ch1","f":0,"db":-80},{"ch":"Ch1","f":0.5,"db":-72},{"ch":"Ch1","f":1,"db":-60},{"ch":"Ch1","f":1.3,"db":-66},{"ch":"Ch1","f":1.8,"db":-80},{"ch":"Ch1","f":2.3,"db":-57},{"ch":"Ch1","f":2.8,"db":-80},{"ch":"Ch1","f":3.2,"db":-57},{"ch":"Ch1","f":3.7,"db":-72},{"ch":"Ch1","f":4.2,"db":-80},{"ch":"Ch1","f":4.7,"db":-56},{"ch":"Ch1","f":5.2,"db":-70},{"ch":"Ch1","f":5.7,"db":-53},{"ch":"Ch1","f":6.2,"db":-68},{"ch":"Ch1","f":6.7,"db":-52},{"ch":"Ch1","f":7.2,"db":-58},{"ch":"Ch1","f":7.6,"db":-80},{"ch":"Ch1","f":8,"db":-52},{"ch":"Ch1","f":8.4,"db":-60},{"ch":"Ch1","f":8.9,"db":-54},{"ch":"Ch1","f":9.4,"db":-75},{"ch":"Ch1","f":9.9,"db":-56},{"ch":"Ch1","f":10.4,"db":-78},{"ch":"Ch1","f":10.8,"db":-58},{"ch":"Ch1","f":11.2,"db":-80},{"ch":"Ch1","f":11.6,"db":-60},{"ch":"Ch1","f":12.2,"db":-75},{"ch":"Ch1","f":12.6,"db":-60},{"ch":"Ch1","f":13,"db":-80},{"ch":"Ch1","f":13.4,"db":-58},{"ch":"Ch1","f":13.7,"db":-77},{"ch":"Ch1","f":14,"db":-60},{"ch":"Ch1","f":14.5,"db":-65},{"ch":"Ch1","f":15,"db":-57},{"ch":"Ch1","f":15.5,"db":-69},{"ch":"Ch1","f":16,"db":-56},{"ch":"Ch1","f":16.5,"db":-64},{"ch":"Ch1","f":17,"db":-56},{"ch":"Ch1","f":18,"db":-62},{"ch":"Ch1","f":18.5,"db":-56},{"ch":"Ch1","f":19,"db":-58},{"ch":"Ch1","f":20,"db":-54},{"ch":"Ch1","f":21,"db":-57},{"ch":"Ch1","f":22,"db":-53},{"ch":"Ch1","f":23,"db":-56},{"ch":"Ch1","f":24,"db":-53},{"ch":"Ch1","f":25,"db":-55},{"ch":"Ch1","f":26,"db":-53},{"ch":"Ch1","f":27,"db":-55},{"ch":"Ch1","f":28,"db":-56},{"ch":"Ch1","f":29,"db":-60},{"ch":"Ch1","f":30,"db":-59},{"ch":"Ch1","f":31,"db":-58},{"ch":"Ch1","f":32,"db":-53},{"ch":"Ch1","f":33,"db":-48},{"ch":"Ch1","f":33.5,"db":-52},{"ch":"Ch1","f":34,"db":-62},{"ch":"Ch1","f":34.5,"db":-80},{"ch":"Ch1","f":35,"db":-71},{"ch":"Ch1","f":35.5,"db":-62},{"ch":"Ch1","f":36,"db":-60},{"ch":"Ch1","f":37,"db":-56},{"ch":"Ch1","f":38,"db":-52},{"ch":"Ch1","f":39,"db":-50},{"ch":"Ch1","f":40,"db":-48},{"ch":"Ch1","f":41,"db":-52},{"ch":"Ch1","f":42,"db":-48},{"ch":"Ch1","f":43,"db":-52},{"ch":"Ch1","f":44,"db":-48},{"ch":"Ch1","f":45,"db":-50},{"ch":"Ch1","f":46,"db":-47},{"ch":"Ch1","f":47,"db":-48},{"ch":"Ch1","f":48,"db":-44},{"ch":"Ch1","f":49,"db":-43},{"ch":"Ch1","f":50,"db":-41},{"ch":"Ch1","f":51,"db":-40},{"ch":"Ch1","f":52,"db":-38},{"ch":"Ch1","f":53,"db":-37.5},{"ch":"Ch1","f":54,"db":-37},{"ch":"Ch1","f":55,"db":-37.5},{"ch":"Ch1","f":56,"db":-38},{"ch":"Ch1","f":57,"db":-39},{"ch":"Ch1","f":58,"db":-40},{"ch":"Ch1","f":59,"db":-42},{"ch":"Ch1","f":60,"db":-43},{"ch":"Ch1","f":61,"db":-44},{"ch":"Ch1","f":62,"db":-46},{"ch":"Ch1","f":63,"db":-44},{"ch":"Ch1","f":64,"db":-44},{"ch":"Ch1","f":65,"db":-43},{"ch":"Ch1","f":66,"db":-42},{"ch":"Ch1","f":67,"db":-41},{"ch":"Ch1","f":68,"db":-40},{"ch":"Ch1","f":69,"db":-40},{"ch":"Ch1","f":70,"db":-41},{"ch":"Ch1","f":71,"db":-43},{"ch":"Ch1","f":72,"db":-46},{"ch":"Ch1","f":73,"db":-47},{"ch":"Ch1","f":74,"db":-45},{"ch":"Ch1","f":75,"db":-47},{"ch":"Ch1","f":76,"db":-46},{"ch":"Ch1","f":77,"db":-47},{"ch":"Ch1","f":78,"db":-45},{"ch":"Ch1","f":79,"db":-42},{"ch":"Ch1","f":80,"db":-39}
],
"xgrid":[{"v":10},{"v":20},{"v":30},{"v":40},{"v":50},{"v":60},{"v":70},{"v":80}],
"table":[{"ch":"Ch1","il":11.7},{"ch":"Ch2","il":8.4},{"ch":"Ch3","il":12.1},{"ch":"Ch4","il":14.6},{"ch":"Ch5","il":17.1},{"ch":"Ch6","il":19.6}],
"cable":[{"n":1,"u":654,"w":439},{"n":2,"u":654,"w":428},{"n":3,"u":655,"w":420},{"n":4,"u":660,"w":416},{"n":5,"u":672,"w":415},{"n":6,"u":690,"w":417},{"n":7,"u":708,"w":423},{"n":8,"u":722,"w":430},{"n":9,"u":732,"w":434},{"n":10,"u":742,"w":434}],
"arc1":[{"n":1,"u":1073,"w":563},{"n":2,"u":1085,"w":553},{"n":3,"u":1098,"w":549.5},{"n":4,"u":1115,"w":552},{"n":5,"u":1137,"w":560}],
"arc2":[{"n":1,"u":1155,"w":560},{"n":2,"u":1170,"w":553},{"n":3,"u":1187,"w":549},{"n":4,"u":1200,"w":552},{"n":5,"u":1213,"w":563}]
},
"layer":[
{"layer":[
{"mark":{"type":"rule","color":"#111111","strokeWidth":2},"encoding":{"x":{"datum":17,"scale":{"domain":[0,1331],"range":[0,1331]},"axis":null},"y":{"datum":7,"scale":{"domain":[0,740],"range":[0,740]},"axis":null},"x2":{"datum":1327}}},
{"mark":{"type":"rule","color":"#111111","strokeWidth":2},"encoding":{"x":{"datum":17,"scale":{"domain":[0,1331],"range":[0,1331]},"axis":null},"y":{"datum":7,"scale":{"domain":[0,740],"range":[0,740]},"axis":null},"y2":{"datum":740}}},
{"mark":{"type":"rule","color":"#111111","strokeWidth":2},"encoding":{"x":{"datum":1327,"scale":{"domain":[0,1331],"range":[0,1331]},"axis":null},"y":{"datum":7,"scale":{"domain":[0,740],"range":[0,740]},"axis":null},"y2":{"datum":740}}},
{"mark":{"type":"text","text":"Performance Comparison","align":"left","baseline":"middle","fontSize":38.2,"fontWeight":"bold","color":"#666666"},"encoding":{"x":{"datum":54,"scale":{"domain":[0,1331],"range":[0,1331]},"axis":null},"y":{"datum":48.5,"scale":{"domain":[0,740],"range":[0,740]},"axis":null}}},
{"mark":{"type":"rect","color":"#ea8600"},"encoding":{"x":{"datum":1161,"scale":{"domain":[0,1331],"range":[0,1331]},"axis":null},"x2":{"datum":1278},"y":{"datum":8,"scale":{"domain":[0,740],"range":[0,740]},"axis":null},"y2":{"datum":73}}},
{"mark":{"type":"rule","color":"white","strokeWidth":5,"strokeCap":"round"},"encoding":{"x":{"datum":1187,"scale":{"domain":[0,1331],"range":[0,1331]},"axis":null},"x2":{"datum":1212},"y":{"datum":27,"scale":{"domain":[0,740],"range":[0,740]},"axis":null}}},
{"mark":{"type":"rule","color":"white","strokeWidth":5,"strokeCap":"round"},"encoding":{"x":{"datum":1175,"scale":{"domain":[0,1331],"range":[0,1331]},"axis":null},"x2":{"datum":1209},"y":{"datum":36,"scale":{"domain":[0,740],"range":[0,740]},"axis":null}}},
{"mark":{"type":"rule","color":"white","strokeWidth":5,"strokeCap":"round"},"encoding":{"x":{"datum":1182,"scale":{"domain":[0,1331],"range":[0,1331]},"axis":null},"x2":{"datum":1204},"y":{"datum":45,"scale":{"domain":[0,740],"range":[0,740]},"axis":null}}},
{"mark":{"type":"text","text":"TE","align":"left","baseline":"middle","fontSize":32,"fontWeight":"bold","fontStyle":"italic","color":"white"},"encoding":{"x":{"datum":1218,"scale":{"domain":[0,1331],"range":[0,1331]},"axis":null},"y":{"datum":35.5,"scale":{"domain":[0,740],"range":[0,740]},"axis":null}}},
{"mark":{"type":"text","text":"connectivity","align":"left","baseline":"middle","fontSize":7.5,"fontWeight":"bold","fontStyle":"italic","color":"white"},"encoding":{"x":{"datum":1215,"scale":{"domain":[0,1331],"range":[0,1331]},"axis":null},"y":{"datum":56.5,"scale":{"domain":[0,740],"range":[0,740]},"axis":null}}},
{"mark":{"type":"text","text":"Insertion Loss","align":"center","baseline":"middle","fontSize":13.8,"color":"#333333"},"encoding":{"x":{"datum":263,"scale":{"domain":[0,1331],"range":[0,1331]},"axis":null},"y":{"datum":78,"scale":{"domain":[0,740],"range":[0,740]},"axis":null}}},
{"mark":{"type":"text","text":"Return Loss, Module Side","align":"center","baseline":"middle","fontSize":13.8,"color":"#333333"},"encoding":{"x":{"datum":678,"scale":{"domain":[0,1331],"range":[0,1331]},"axis":null},"y":{"datum":77,"scale":{"domain":[0,740],"range":[0,740]},"axis":null}}},
{"mark":{"type":"text","text":"PowerSum Crosstalk, 2 FEXT","align":"center","baseline":"middle","fontSize":13.8,"color":"#333333"},"encoding":{"x":{"datum":263,"scale":{"domain":[0,1331],"range":[0,1331]},"axis":null},"y":{"datum":389,"scale":{"domain":[0,740],"range":[0,740]},"axis":null}}},
{"mark":{"type":"rect","fill":"transparent","stroke":"#cccccc","strokeWidth":1.5},"encoding":{"x":{"datum":906,"scale":{"domain":[0,1331],"range":[0,1331]},"axis":null},"x2":{"datum":1029},"y":{"datum":100,"scale":{"domain":[0,740],"range":[0,740]},"axis":null},"y2":{"datum":181}}},
{"mark":{"type":"rect","fill":"transparent","stroke":"#cccccc","strokeWidth":1.5},"encoding":{"x":{"datum":1029,"scale":{"domain":[0,1331],"range":[0,1331]},"axis":null},"x2":{"datum":1250.5},"y":{"datum":100,"scale":{"domain":[0,740],"range":[0,740]},"axis":null},"y2":{"datum":181}}},
{"mark":{"type":"text","text":"TP0 – TP01a","align":"center","baseline":"middle","fontSize":21.8,"color":"#6b6b6b"},"encoding":{"x":{"datum":1140,"scale":{"domain":[0,1331],"range":[0,1331]},"axis":null},"y":{"datum":119.5,"scale":{"domain":[0,740],"range":[0,740]},"axis":null}}},
{"mark":{"type":"text","text":"IL, dB","align":"center","baseline":"middle","fontSize":21.8,"color":"#6b6b6b"},"encoding":{"x":{"datum":1140,"scale":{"domain":[0,1331],"range":[0,1331]},"axis":null},"y":{"datum":146.5,"scale":{"domain":[0,740],"range":[0,740]},"axis":null}}},
{"mark":{"type":"text","text":"@53.125GHz","align":"center","baseline":"middle","fontSize":15,"color":"#6b6b6b"},"encoding":{"x":{"datum":1140,"scale":{"domain":[0,1331],"range":[0,1331]},"axis":null},"y":{"datum":168,"scale":{"domain":[0,740],"range":[0,740]},"axis":null}}},
{"mark":{"type":"text","text":"Ch1: Cabled Host 7.85dB","align":"left","baseline":"middle","fontSize":19.25,"color":"#ffc000"},"encoding":{"x":{"datum":539,"scale":{"domain":[0,1331],"range":[0,1331]},"axis":null},"y":{"datum":404.5,"scale":{"domain":[0,740],"range":[0,740]},"axis":null}}},
{"mark":{"type":"text","text":"Ch2: PCB Host 3.7dB","align":"left","baseline":"middle","fontSize":19.25,"color":"#ff0000"},"encoding":{"x":{"datum":539,"scale":{"domain":[0,1331],"range":[0,1331]},"axis":null},"y":{"datum":522.5,"scale":{"domain":[0,740],"range":[0,740]},"axis":null}}},
{"mark":{"type":"text","text":"Ch3: PCB Host 7.3dB","align":"left","baseline":"middle","fontSize":19.25,"color":"#00ff00"},"encoding":{"x":{"datum":539,"scale":{"domain":[0,1331],"range":[0,1331]},"axis":null},"y":{"datum":545.5,"scale":{"domain":[0,740],"range":[0,740]},"axis":null}}},
{"mark":{"type":"text","text":"Ch4: PCB Host 9.8dB","align":"left","baseline":"middle","fontSize":19.25,"color":"#0000ff"},"encoding":{"x":{"datum":539,"scale":{"domain":[0,1331],"range":[0,1331]},"axis":null},"y":{"datum":568.5,"scale":{"domain":[0,740],"range":[0,740]},"axis":null}}},
{"mark":{"type":"text","text":"Ch5: PCB Host 12.2dB","align":"left","baseline":"middle","fontSize":19.25,"color":"#007a00"},"encoding":{"x":{"datum":539,"scale":{"domain":[0,1331],"range":[0,1331]},"axis":null},"y":{"datum":591.5,"scale":{"domain":[0,740],"range":[0,740]},"axis":null}}},
{"mark":{"type":"text","text":"Ch6: PCB Host 14.6dB","align":"left","baseline":"middle","fontSize":19.25,"color":"#ff00ff"},"encoding":{"x":{"datum":539,"scale":{"domain":[0,1331],"range":[0,1331]},"axis":null},"y":{"datum":615,"scale":{"domain":[0,740],"range":[0,740]},"axis":null}}},
{"mark":{"type":"rect","fill":"transparent","stroke":"#777777","strokeWidth":1,"strokeDash":[2,2]},"encoding":{"x":{"datum":737,"scale":{"domain":[0,1331],"range":[0,1331]},"axis":null},"x2":{"datum":808},"y":{"datum":420,"scale":{"domain":[0,740],"range":[0,740]},"axis":null},"y2":{"datum":447}}},
{"mark":{"type":"rect","color":"#cfcfcf"},"encoding":{"x":{"datum":741,"scale":{"domain":[0,1331],"range":[0,1331]},"axis":null},"x2":{"datum":816},"y":{"datum":425,"scale":{"domain":[0,740],"range":[0,740]},"axis":null},"y2":{"datum":436}}},
{"mark":{"type":"rect","color":"#cfcfcf"},"encoding":{"x":{"datum":761,"scale":{"domain":[0,1331],"range":[0,1331]},"axis":null},"x2":{"datum":814},"y":{"datum":436,"scale":{"domain":[0,740],"range":[0,740]},"axis":null},"y2":{"datum":444}}},
{"mark":{"type":"rect","color":"#f0a3a8"},"encoding":{"x":{"datum":741,"scale":{"domain":[0,1331],"range":[0,1331]},"axis":null},"x2":{"datum":761},"y":{"datum":427,"scale":{"domain":[0,740],"range":[0,740]},"axis":null},"y2":{"datum":446}}},
{"mark":{"type":"rect","color":"#8fc04a","stroke":"#5f7f3a","strokeWidth":0.7},"encoding":{"x":{"datum":745,"scale":{"domain":[0,1331],"range":[0,1331]},"axis":null},"x2":{"datum":821},"y":{"datum":430,"scale":{"domain":[0,740],"range":[0,740]},"axis":null},"y2":{"datum":437}}},
{"mark":{"type":"rule","color":"#e0d84a","strokeWidth":2},"encoding":{"x":{"datum":750,"scale":{"domain":[0,1331],"range":[0,1331]},"axis":null},"x2":{"datum":795},"y":{"datum":433.5,"scale":{"domain":[0,740],"range":[0,740]},"axis":null}}},
{"mark":{"type":"rule","color":"#4f4f2a","strokeWidth":1.5},"encoding":{"x":{"datum":795,"scale":{"domain":[0,1331],"range":[0,1331]},"axis":null},"y":{"datum":430,"scale":{"domain":[0,740],"range":[0,740]},"axis":null},"y2":{"datum":437}}},
{"mark":{"type":"rule","color":"#8b2a2a","strokeWidth":1.5,"strokeDash":[5,2]},"encoding":{"x":{"datum":771,"scale":{"domain":[0,1331],"range":[0,1331]},"axis":null},"x2":{"datum":816},"y":{"datum":428,"scale":{"domain":[0,740],"range":[0,740]},"axis":null}}},
{"data":{"name":"cable"},"mark":{"type":"line","color":"#dca6dc","strokeWidth":3,"interpolate":"cardinal"},"encoding":{"x":{"field":"u","type":"quantitative","scale":{"domain":[0,1331],"range":[0,1331]},"axis":null},"y":{"field":"w","type":"quantitative","scale":{"domain":[0,740],"range":[0,740]},"axis":null},"order":{"field":"n"}}},
{"mark":{"type":"rect","color":"#a8f0a0"},"encoding":{"x":{"datum":644,"scale":{"domain":[0,1331],"range":[0,1331]},"axis":null},"x2":{"datum":666},"y":{"datum":439,"scale":{"domain":[0,740],"range":[0,740]},"axis":null},"y2":{"datum":444}}},
{"mark":{"type":"rect","color":"#ed9a4b"},"encoding":{"x":{"datum":644,"scale":{"domain":[0,1331],"range":[0,1331]},"axis":null},"x2":{"datum":666},"y":{"datum":444,"scale":{"domain":[0,740],"range":[0,740]},"axis":null},"y2":{"datum":446}}},
{"mark":{"type":"rect","color":"#00b050"},"encoding":{"x":{"datum":551,"scale":{"domain":[0,1331],"range":[0,1331]},"axis":null},"x2":{"datum":794},"y":{"datum":446,"scale":{"domain":[0,740],"range":[0,740]},"axis":null},"y2":{"datum":465}}},
{"mark":{"type":"rule","color":"#6b6b3b","strokeWidth":2},"encoding":{"x":{"datum":622,"scale":{"domain":[0,1331],"range":[0,1331]},"axis":null},"y":{"datum":446,"scale":{"domain":[0,740],"range":[0,740]},"axis":null},"y2":{"datum":465}}},
{"mark":{"type":"rule","color":"#6b6b3b","strokeWidth":2},"encoding":{"x":{"datum":660,"scale":{"domain":[0,1331],"range":[0,1331]},"axis":null},"y":{"datum":446,"scale":{"domain":[0,740],"range":[0,740]},"axis":null},"y2":{"datum":465}}},
{"mark":{"type":"rule","color":"#c8c83c","strokeWidth":2},"encoding":{"x":{"datum":621,"scale":{"domain":[0,1331],"range":[0,1331]},"axis":null},"x2":{"datum":665},"y":{"datum":462,"scale":{"domain":[0,740],"range":[0,740]},"axis":null}}},
{"mark":{"type":"rect","fill":"transparent","stroke":"#777777","strokeWidth":1,"strokeDash":[2,2]},"encoding":{"x":{"datum":741,"scale":{"domain":[0,1331],"range":[0,1331]},"axis":null},"x2":{"datum":827},"y":{"datum":614,"scale":{"domain":[0,740],"range":[0,740]},"axis":null},"y2":{"datum":643}}},
{"mark":{"type":"rect","color":"#cfcfcf"},"encoding":{"x":{"datum":746,"scale":{"domain":[0,1331],"range":[0,1331]},"axis":null},"x2":{"datum":826},"y":{"datum":618,"scale":{"domain":[0,740],"range":[0,740]},"axis":null},"y2":{"datum":641}}},
{"mark":{"type":"rect","color":"#606060"},"encoding":{"x":{"datum":746,"scale":{"domain":[0,1331],"range":[0,1331]},"axis":null},"x2":{"datum":768},"y":{"datum":621,"scale":{"domain":[0,740],"range":[0,740]},"axis":null},"y2":{"datum":643}}},
{"mark":{"type":"rect","color":"#8fc04a","stroke":"#5f7f3a","strokeWidth":0.7},"encoding":{"x":{"datum":750,"scale":{"domain":[0,1331],"range":[0,1331]},"axis":null},"x2":{"datum":833},"y":{"datum":625,"scale":{"domain":[0,740],"range":[0,740]},"axis":null},"y2":{"datum":632}}},
{"mark":{"type":"rule","color":"#e0d84a","strokeWidth":2},"encoding":{"x":{"datum":751,"scale":{"domain":[0,1331],"range":[0,1331]},"axis":null},"x2":{"datum":805},"y":{"datum":628.5,"scale":{"domain":[0,740],"range":[0,740]},"axis":null}}},
{"mark":{"type":"rule","color":"#4f4f2a","strokeWidth":1.5},"encoding":{"x":{"datum":805,"scale":{"domain":[0,1331],"range":[0,1331]},"axis":null},"y":{"datum":625,"scale":{"domain":[0,740],"range":[0,740]},"axis":null},"y2":{"datum":632}}},
{"mark":{"type":"rule","color":"#8b2a2a","strokeWidth":1.5,"strokeDash":[5,2]},"encoding":{"x":{"datum":779,"scale":{"domain":[0,1331],"range":[0,1331]},"axis":null},"x2":{"datum":829},"y":{"datum":622,"scale":{"domain":[0,740],"range":[0,740]},"axis":null}}},
{"mark":{"type":"rect","color":"#00b050"},"encoding":{"x":{"datum":563,"scale":{"domain":[0,1331],"range":[0,1331]},"axis":null},"x2":{"datum":813},"y":{"datum":643,"scale":{"domain":[0,740],"range":[0,740]},"axis":null},"y2":{"datum":664}}},
{"mark":{"type":"rule","color":"#6b6b3b","strokeWidth":2.5},"encoding":{"x":{"datum":625,"scale":{"domain":[0,1331],"range":[0,1331]},"axis":null},"y":{"datum":643,"scale":{"domain":[0,740],"range":[0,740]},"axis":null},"y2":{"datum":664}}},
{"mark":{"type":"rule","color":"#6b6b3b","strokeWidth":2.5},"encoding":{"x":{"datum":724,"scale":{"domain":[0,1331],"range":[0,1331]},"axis":null},"y":{"datum":643,"scale":{"domain":[0,740],"range":[0,740]},"axis":null},"y2":{"datum":664}}},
{"mark":{"type":"rule","color":"#c8c83c","strokeWidth":2},"encoding":{"x":{"datum":624,"scale":{"domain":[0,1331],"range":[0,1331]},"axis":null},"x2":{"datum":725},"y":{"datum":661,"scale":{"domain":[0,740],"range":[0,740]},"axis":null}}},
{"mark":{"type":"text","text":"Crosstalk pinmap","align":"left","baseline":"middle","fontSize":24.3,"color":"#6b6b6b"},"encoding":{"x":{"datum":1024,"scale":{"domain":[0,1331],"range":[0,1331]},"axis":null},"y":{"datum":526.5,"scale":{"domain":[0,740],"range":[0,740]},"axis":null}}},
{"mark":{"type":"text","text":"G S S G S S G S S G","align":"left","baseline":"middle","fontSize":24.7,"color":"#6b6b6b"},"encoding":{"x":{"datum":1024.5,"scale":{"domain":[0,1331],"range":[0,1331]},"axis":null},"y":{"datum":584.5,"scale":{"domain":[0,740],"range":[0,740]},"axis":null}}},
{"mark":{"type":"rect","fill":"transparent","stroke":"#777777","strokeWidth":1.5},"encoding":{"x":{"datum":1117,"scale":{"domain":[0,1331],"range":[0,1331]},"axis":null},"x2":{"datum":1171},"y":{"datum":566,"scale":{"domain":[0,740],"range":[0,740]},"axis":null},"y2":{"datum":599}}},
{"data":{"name":"arc1"},"mark":{"type":"line","color":"#b8650f","strokeWidth":1.5,"interpolate":"cardinal"},"encoding":{"x":{"field":"u","type":"quantitative","scale":{"domain":[0,1331],"range":[0,1331]},"axis":null},"y":{"field":"w","type":"quantitative","scale":{"domain":[0,740],"range":[0,740]},"axis":null},"order":{"field":"n"}}},
{"data":{"name":"arc2"},"mark":{"type":"line","color":"#b8650f","strokeWidth":1.5,"interpolate":"cardinal"},"encoding":{"x":{"field":"u","type":"quantitative","scale":{"domain":[0,1331],"range":[0,1331]},"axis":null},"y":{"field":"w","type":"quantitative","scale":{"domain":[0,740],"range":[0,740]},"axis":null},"order":{"field":"n"}}},
{"mark":{"type":"point","shape":"triangle-right","filled":true,"size":45,"color":"#b8650f","opacity":1,"angle":18},"encoding":{"x":{"datum":1138,"scale":{"domain":[0,1331],"range":[0,1331]},"axis":null},"y":{"datum":559,"scale":{"domain":[0,740],"range":[0,740]},"axis":null}}},
{"mark":{"type":"point","shape":"triangle-left","filled":true,"size":45,"color":"#b8650f","opacity":1,"angle":-18},"encoding":{"x":{"datum":1156,"scale":{"domain":[0,1331],"range":[0,1331]},"axis":null},"y":{"datum":559,"scale":{"domain":[0,740],"range":[0,740]},"axis":null}}},
{"mark":{"type":"rect","color":"#ea8600"},"encoding":{"x":{"datum":68,"scale":{"domain":[0,1331],"range":[0,1331]},"axis":null},"x2":{"datum":115},"y":{"datum":699,"scale":{"domain":[0,740],"range":[0,740]},"axis":null},"y2":{"datum":740}}},
{"mark":{"type":"text","text":"7","align":"center","baseline":"middle","fontSize":12,"color":"white"},"encoding":{"x":{"datum":90,"scale":{"domain":[0,1331],"range":[0,1331]},"axis":null},"y":{"datum":722,"scale":{"domain":[0,740],"range":[0,740]},"axis":null}}},
{"mark":{"type":"text","text":"Simulated results are provided to 80 Ghz, but channel bandwidth is assumed to be 67 Ghz max.","align":"left","baseline":"middle","fontSize":16.7,"font":"Open Sans","color":"#7a7a7a"},"encoding":{"x":{"datum":174,"scale":{"domain":[0,1331],"range":[0,1331]},"axis":null},"y":{"datum":726.5,"scale":{"domain":[0,740],"range":[0,740]},"axis":null}}}
]},
{"data":{"name":"table"},"encoding":{"y":{"field":"ch","type":"nominal","scale":{"type":"band","domain":["Ch1","Ch2","Ch3","Ch4","Ch5","Ch6"],"range":[181,435],"paddingInner":0,"paddingOuter":0},"axis":null}},"layer":[
{"mark":{"type":"rect","fill":"transparent","stroke":"#cccccc","strokeWidth":1.5},"encoding":{"x":{"datum":906,"scale":{"domain":[0,1331],"range":[0,1331]},"axis":null},"x2":{"datum":1029}}},
{"mark":{"type":"rect","fill":"transparent","stroke":"#cccccc","strokeWidth":1.5},"encoding":{"x":{"datum":1029,"scale":{"domain":[0,1331],"range":[0,1331]},"axis":null},"x2":{"datum":1250.5}}},
{"mark":{"type":"text","fontSize":23.4,"dy":1.5},"encoding":{"x":{"datum":967,"scale":{"domain":[0,1331],"range":[0,1331]},"axis":null},"text":{"field":"ch"},"color":{"field":"ch","type":"nominal","legend":null,"scale":{"domain":["Ch1","Ch2","Ch3","Ch4","Ch5","Ch6"],"range":["#ffc000","#ff0000","#00ff00","#0000ff","#007a00","#ff00ff"]}}}},
{"mark":{"type":"text","fontSize":23.6,"dy":1},"encoding":{"x":{"datum":1140,"scale":{"domain":[0,1331],"range":[0,1331]},"axis":null},"text":{"field":"il","type":"quantitative","format":".1f"},"color":{"field":"ch","type":"nominal","legend":null,"scale":{"domain":["Ch1","Ch2","Ch3","Ch4","Ch5","Ch6"],"range":["#ffc000","#ff0000","#00ff00","#0000ff","#007a00","#ff00ff"]}}}}
]},
{"data":{"name":"xgrid"},"mark":{"type":"rule","opacity":0},"encoding":{"x":{"field":"v","type":"quantitative","scale":{"domain":[0,80],"range":[83.3,442.7]},"axis":{"orient":"bottom","offset":-416.7,"values":[2,4,6,8,12,14,16,18,22,24,26,28,32,34,36,38,42,44,46,48,52,54,56,58,62,64,66,68,72,74,76,78],"labels":false,"domain":false,"title":null,"tickSize":5}},"y":{"datum":-40,"scale":{"domain":[-40,0],"range":[323.3,96.7]},"axis":{"orient":"left","offset":-83.3,"values":[-2,-4,-6,-8,-12,-14,-16,-18,-22,-24,-26,-28,-32,-34,-36,-38],"labels":false,"domain":false,"title":null,"tickSize":6}}}},
{"data":{"name":"xgrid"},"mark":{"type":"rule","opacity":0},"encoding":{"x":{"field":"v","type":"quantitative","scale":{"domain":[0,80],"range":[498.3,857.3]},"axis":{"orient":"bottom","offset":-417.7,"values":[2,4,6,8,12,14,16,18,22,24,26,28,32,34,36,38,42,44,46,48,52,54,56,58,62,64,66,68,72,74,76,78],"labels":false,"domain":false,"title":null,"tickSize":5}},"y":{"datum":-80,"scale":{"domain":[-80,0],"range":[322.3,95]},"axis":{"orient":"left","offset":-498.3,"values":[-5,-15,-25,-35,-45,-55,-65,-75],"labels":false,"domain":false,"title":null,"tickSize":6}}}},
{"data":{"name":"xgrid"},"mark":{"type":"rule","opacity":0},"encoding":{"x":{"field":"v","type":"quantitative","scale":{"domain":[0,80],"range":[83.3,442.7]},"axis":{"orient":"bottom","offset":-105.7,"values":[2,4,6,8,12,14,16,18,22,24,26,28,32,34,36,38,42,44,46,48,52,54,56,58,62,64,66,68,72,74,76,78],"labels":false,"domain":false,"title":null,"tickSize":5}},"y":{"datum":-80,"scale":{"domain":[-80,0],"range":[634.3,407.3]},"axis":{"orient":"left","offset":-83.3,"values":[-5,-15,-25,-35,-45,-55,-65,-75],"labels":false,"domain":false,"title":null,"tickSize":6}}}},
{"layer":[
{"data":{"name":"xgrid"},"mark":{"type":"rule","color":"#cfcfcf","strokeWidth":1.5},"encoding":{"x":{"field":"v","type":"quantitative","scale":{"domain":[0,80],"range":[83.3,442.7]},"axis":{"orient":"bottom","offset":-416.7,"values":[0,10,20,30,40,50,60,70,80],"labelExpr":"'' + datum.value","title":"freq, GHz","tickSize":6,"labelPadding":6,"titlePadding":13}},"y":{"datum":-40,"scale":{"domain":[-40,0],"range":[323.3,96.7]},"axis":{"orient":"left","offset":-83.3,"values":[0,-10,-20,-30,-40],"labelExpr":"'' + datum.value","title":"Magnitude, dB","tickSize":9,"labelPadding":1,"titlePadding":8}},"y2":{"datum":0}}},
{"data":{"values":[{"v":-10},{"v":-20},{"v":-30}]},"mark":{"type":"rule","color":"#cfcfcf","strokeWidth":1.5},"encoding":{"y":{"field":"v","type":"quantitative","scale":{"domain":[-40,0],"range":[323.3,96.7]}},"x":{"datum":0,"scale":{"domain":[0,80],"range":[83.3,442.7]}},"x2":{"datum":80}}},
{"mark":{"type":"rect","fill":"transparent","stroke":"#666666","strokeWidth":1.5},"encoding":{"x":{"datum":0,"scale":{"domain":[0,80],"range":[83.3,442.7]}},"x2":{"datum":80},"y":{"datum":-40,"scale":{"domain":[-40,0],"range":[323.3,96.7]}},"y2":{"datum":0}}},
{"data":{"name":"il"},"mark":{"type":"line","strokeWidth":2.3},"encoding":{"x":{"field":"f","type":"quantitative","scale":{"domain":[0,80],"range":[83.3,442.7]}},"y":{"field":"db","type":"quantitative","scale":{"domain":[-40,0],"range":[323.3,96.7]}},"color":{"field":"ch","type":"nominal","legend":null,"scale":{"domain":["Ch1","Ch2","Ch3","Ch4","Ch5","Ch6"],"range":["#ffb926","#ff0000","#00f000","#0000ff","#2e8b57","#ff00ff"]}}}},
{"mark":{"type":"rule","color":"black","strokeWidth":2,"strokeDash":[7,4]},"encoding":{"x":{"datum":53.125,"scale":{"domain":[0,80],"range":[83.3,442.7]}},"y":{"datum":-5.8,"scale":{"domain":[-40,0],"range":[323.3,96.7]}},"y2":{"datum":-30.1}}}
]},
{"layer":[
{"data":{"name":"xgrid"},"mark":{"type":"rule","color":"#cfcfcf","strokeWidth":1.5},"encoding":{"x":{"field":"v","type":"quantitative","scale":{"domain":[0,80],"range":[498.3,857.3]},"axis":{"orient":"bottom","offset":-417.7,"values":[0,10,20,30,40,50,60,70,80],"labelExpr":"'' + datum.value","title":"freq, GHz","tickSize":6,"labelPadding":6,"titlePadding":13}},"y":{"datum":-80,"scale":{"domain":[-80,0],"range":[322.3,95]},"axis":{"orient":"left","offset":-498.3,"values":[0,-10,-20,-30,-40,-50,-60,-70,-80],"labelExpr":"'' + datum.value","title":"Magnitude, dB","tickSize":9,"labelPadding":1,"titlePadding":10}},"y2":{"datum":0}}},
{"data":{"values":[{"v":-10},{"v":-20},{"v":-30},{"v":-40},{"v":-50},{"v":-60},{"v":-70}]},"mark":{"type":"rule","color":"#cfcfcf","strokeWidth":1.5},"encoding":{"y":{"field":"v","type":"quantitative","scale":{"domain":[-80,0],"range":[322.3,95]}},"x":{"datum":0,"scale":{"domain":[0,80],"range":[498.3,857.3]}},"x2":{"datum":80}}},
{"mark":{"type":"rect","fill":"transparent","stroke":"#666666","strokeWidth":1.5},"encoding":{"x":{"datum":0,"scale":{"domain":[0,80],"range":[498.3,857.3]}},"x2":{"datum":80},"y":{"datum":-80,"scale":{"domain":[-80,0],"range":[322.3,95]}},"y2":{"datum":0}}},
{"data":{"name":"rl"},"mark":{"type":"line","strokeWidth":2.2},"encoding":{"x":{"field":"f","type":"quantitative","scale":{"domain":[0,80],"range":[498.3,857.3]}},"y":{"field":"db","type":"quantitative","scale":{"domain":[-80,0],"range":[322.3,95]}},"detail":{"field":"seg"},"color":{"field":"ch","type":"nominal","legend":null,"scale":{"domain":["Ch1","Ch2","Ch3","Ch4","Ch5","Ch6"],"range":["#ffb926","#ff0000","#00e000","#0000ff","#2e8b57","#ff00ff"]}}}},
{"data":{"name":"rl"},"transform":[{"filter":"datum.ch == 'Ch6' && datum.db > -27"}],"mark":{"type":"line","strokeWidth":2.2,"color":"#3020c0","opacity":0.4},"encoding":{"x":{"field":"f","type":"quantitative","scale":{"domain":[0,80],"range":[498.3,857.3]}},"y":{"field":"db","type":"quantitative","scale":{"domain":[-80,0],"range":[322.3,95]}}}},
{"data":{"name":"rl"},"transform":[{"filter":"datum.ch == 'Ch1'"}],"mark":{"type":"line","strokeWidth":2.8,"color":"#ffb926"},"encoding":{"x":{"field":"f","type":"quantitative","scale":{"domain":[0,80],"range":[498.3,857.3]}},"y":{"field":"db","type":"quantitative","scale":{"domain":[-80,0],"range":[322.3,95]}}}}
]},
{"layer":[
{"data":{"name":"xgrid"},"mark":{"type":"rule","color":"#cfcfcf","strokeWidth":1.5},"encoding":{"x":{"field":"v","type":"quantitative","scale":{"domain":[0,80],"range":[83.3,442.7]},"axis":{"orient":"bottom","offset":-105.7,"values":[0,10,20,30,40,50,60,70,80],"labelExpr":"'' + datum.value","title":"freq, GHz","tickSize":6,"labelPadding":6,"titlePadding":13}},"y":{"datum":-80,"scale":{"domain":[-80,0],"range":[634.3,407.3]},"axis":{"orient":"left","offset":-83.3,"values":[0,-10,-20,-30,-40,-50,-60,-70,-80],"labelExpr":"'' + datum.value","title":"Magnitude, dB","tickSize":9,"labelPadding":1,"titlePadding":8}},"y2":{"datum":0}}},
{"data":{"values":[{"v":-10},{"v":-20},{"v":-30},{"v":-40},{"v":-50},{"v":-60},{"v":-70}]},"mark":{"type":"rule","color":"#cfcfcf","strokeWidth":1.5},"encoding":{"y":{"field":"v","type":"quantitative","scale":{"domain":[-80,0],"range":[634.3,407.3]}},"x":{"datum":0,"scale":{"domain":[0,80],"range":[83.3,442.7]}},"x2":{"datum":80}}},
{"mark":{"type":"rect","fill":"transparent","stroke":"#666666","strokeWidth":1.5},"encoding":{"x":{"datum":0,"scale":{"domain":[0,80],"range":[83.3,442.7]}},"x2":{"datum":80},"y":{"datum":-80,"scale":{"domain":[-80,0],"range":[634.3,407.3]}},"y2":{"datum":0}}},
{"data":{"name":"xt"},"mark":{"type":"line","strokeWidth":2.3},"encoding":{"x":{"field":"f","type":"quantitative","scale":{"domain":[0,80],"range":[83.3,442.7]}},"y":{"field":"db","type":"quantitative","scale":{"domain":[-80,0],"range":[634.3,407.3]}},"color":{"field":"ch","type":"nominal","legend":null,"scale":{"domain":["Ch1","Ch2","Ch3","Ch4","Ch5","Ch6"],"range":["#ffb926","#ff0000","#00f000","#0000ff","#2e8b57","#ff00ff"]}}}},
{"data":{"name":"xt"},"transform":[{"filter":"datum.ch == 'Ch1'"}],"mark":{"type":"line","strokeWidth":3,"color":"#ffb926"},"encoding":{"x":{"field":"f","type":"quantitative","scale":{"domain":[0,80],"range":[83.3,442.7]}},"y":{"field":"db","type":"quantitative","scale":{"domain":[-80,0],"range":[634.3,407.3]}}}}
]}
]}
